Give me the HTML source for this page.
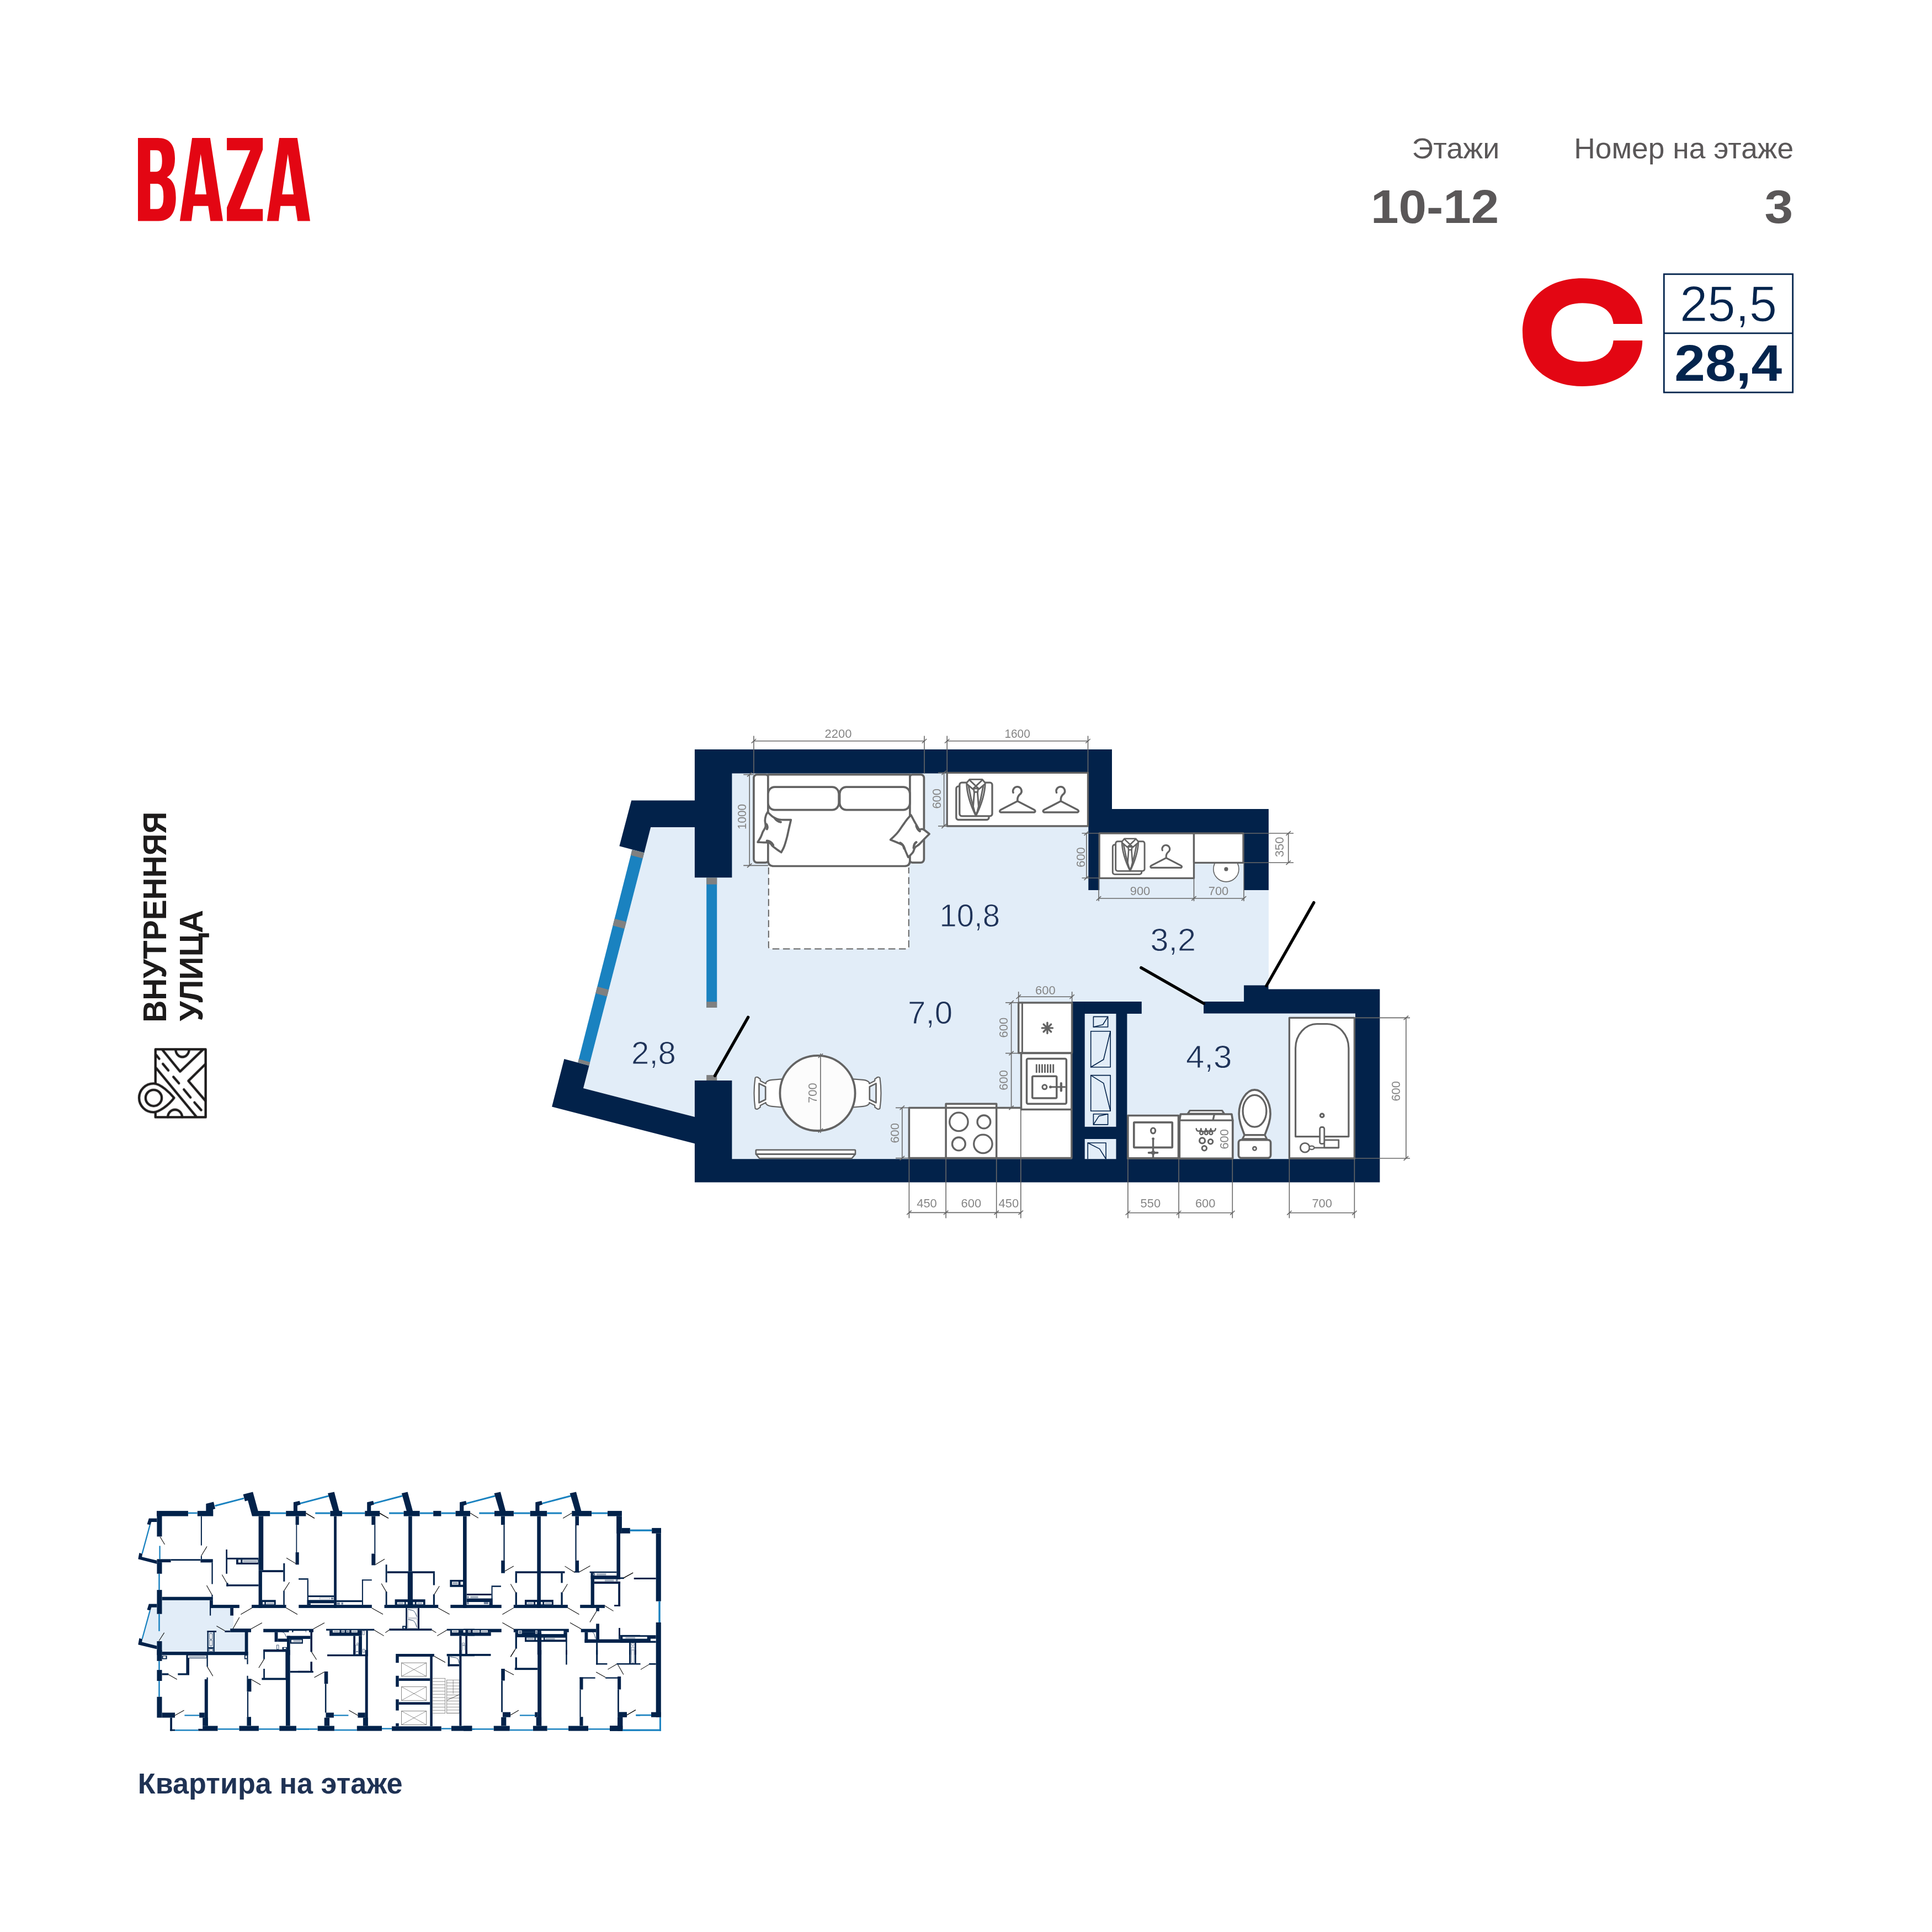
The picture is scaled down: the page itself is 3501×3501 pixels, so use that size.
<!DOCTYPE html>
<html><head><meta charset="utf-8"><title>BAZA</title>
<style>
html,body{margin:0;padding:0;background:#fff;}
body{width:3501px;height:3501px;overflow:hidden;font-family:"Liberation Sans",sans-serif;}
svg{display:block;position:absolute;left:0;top:0;will-change:transform;}
text{font-family:"Liberation Sans",sans-serif;}
</style></head><body>
<svg width="3501" height="3501" viewBox="0 0 3501 3501">
<g fill="#e30613">
<path d="M250,250 L286,250 C307,250 317,262 317,287 C317,306 311,316 302.5,321.3 C313,326 318.7,337 318.7,358 C318.7,388 307,400.5 287,400.5 L250,400.5 Z M272.2,272.2 L283,272.2 C291,272.2 293.7,278 293.7,291.5 C293.7,305 290,311.3 282,311.3 L272.2,311.3 Z M272.2,332.9 L283,332.9 C293,332.9 296.3,340 296.3,356 C296.3,372 293,378.7 284,378.7 L272.2,378.7 Z" fill="#e30613" fill-rule="evenodd"/>
<path d="M348.1,250 L380.8,250 L404,400.5 L381.3,400.5 L377.3,373.2 L350.3,373.2 L346.9,400.5 L325.9,400.5 Z M363.7,279.1 L374.1,352.3 L353.2,352.3 Z" fill="#e30613" fill-rule="evenodd"/>
<path d="M411.1,250 L476.2,250 L476.2,271 L434.5,378.7 L476.2,378.7 L476.2,400.5 L411.1,400.5 L411.1,376 L453.5,272.2 L411.1,272.2 Z" fill="#e30613" />
<path d="M506.1,250 L538.8,250 L562,400.5 L539.3,400.5 L535.3,373.2 L508.3,373.2 L504.9,400.5 L483.9,400.5 Z M521.7,279.1 L532.1,352.3 L511.2,352.3 Z" fill="#e30613" fill-rule="evenodd"/>
</g>
<text x="2717.2" y="287.3" font-size="51" fill="#5a5758" text-anchor="end" textLength="158.7" lengthAdjust="spacingAndGlyphs" >Этажи</text>
<text x="3250.2" y="287.3" font-size="51" fill="#5a5758" text-anchor="end" textLength="398" lengthAdjust="spacingAndGlyphs" >Номер на этаже</text>
<text x="2716.4" y="404.3" font-size="85.5" fill="#5a5758" font-weight="bold" text-anchor="end" textLength="232.4" lengthAdjust="spacingAndGlyphs" >10-12</text>
<text x="3249.3" y="404.3" font-size="85.5" fill="#5a5758" font-weight="bold" text-anchor="end" textLength="51.7" lengthAdjust="spacingAndGlyphs" >3</text>
<path d="M2976.2,587.1 C2976.2,537.4 2932.6,504.3 2867.2,504.3 C2802.3,504.3 2759,543.4 2759,602.1 C2759,660.8 2802.3,700 2867.2,700 C2932.6,700 2976.2,666.8 2976.2,617 L2923.6,617 C2921.6,641.3 2902.7,655.5 2867.2,655.5 C2832,655.5 2811.3,635.7 2811.3,602.1 C2811.3,568.8 2832,549.3 2867.2,549.3 C2902.7,549.3 2921.6,563.3 2923.6,587.1 Z" fill="#e30613" />
<rect x="3015.3" y="496.8" width="233.4" height="214.3" fill="none" stroke="#03244d" stroke-width="2.8" />
<line x1="3015.3" y1="603.8" x2="3248.7" y2="603.8" stroke="#03244d" stroke-width="2.8" />
<text x="3043.9" y="582.3" font-size="90" fill="#03244d" textLength="176.3" lengthAdjust="spacingAndGlyphs" stroke="#fff" stroke-width="1.1">25,5</text>
<text x="3034.3" y="689.6" font-size="92" fill="#03244d" font-weight="bold" textLength="194.9" lengthAdjust="spacingAndGlyphs" >28,4</text>
<text transform="translate(301.1 1852.7) rotate(-90)" font-size="59.4" font-weight="bold" fill="#1d1b1b" textLength="382" lengthAdjust="spacingAndGlyphs">ВНУТРЕННЯЯ</text>
<text transform="translate(366.9 1850.5) rotate(-90)" font-size="59.4" font-weight="bold" fill="#1d1b1b" textLength="201.6" lengthAdjust="spacingAndGlyphs">УЛИЦА</text>
<svg x="240" y="1890" width="150" height="150" viewBox="0 0 1932 1932"><g fill="none" stroke="#1d1b1b" stroke-width="56" stroke-linecap="round" stroke-linejoin="round">
<path d="M537,925 L537,148 L1708,148 L1708,1732 L537,1732 L537,1625"/>
<path d="M700,160 L1112,665 L1640,160"/>
<path d="M540,570 L1495,1725"/>
<path d="M1705,490 L1305,885 L1705,1350"/>
<path d="M548,272 L625,368 M710,487 L838,640 M955,790 L1085,940 M1200,1085 L1355,1270 M1447,1387 L1605,1565"/>
<path d="M1008,148 A157,178 0 0 0 1322,148"/>
<path d="M825,1732 A167.5,176 0 0 1 1160,1732"/>
<path d="M490,945 A335,335 0 0 0 490,1615 C620,1615 850,1450 972,1280 C880,1170 660,945 490,945 Z"/>
<circle cx="495" cy="1282" r="188"/>
</g></svg>
<g id="plan">
<polygon points="1258.9,1401.5 2015,1401.5 2015,1509 2298.9,1509 2298.9,1800 2456,1800 2456,2100.3 1258.9,2100.3" fill="#e2edf8" />
<polygon points="1179.2,1499.1 1260,1499.1 1260,2024.3 1057,1971.9 1067.6,1930.9 1167.4,1545.3" fill="#e2edf8" />
<polygon points="1258.9,1357.9 2015,1357.9 2015,1466 2298.9,1466 2298.9,1613 2254,1613 2254,1509.4 1992.3,1509.4 1992.3,1613 1972.3,1613 1972.3,1401.5 1326.4,1401.5 1326.4,1590.2 1258.9,1590.2 1258.9,1499.1 1179.2,1499.1 1167.4,1545.3 1122.4,1533.3 1144.2,1450.4 1258.9,1450.4" fill="#02224a" />
<polygon points="1022.4,1919.1 1067.6,1930.9 1057,1971.9 1258.9,2024.1 1258.9,1957.9 1326.4,1957.9 1326.4,2100.3 2456,2100.3 2456,1836.6 2181.1,1836.6 2181.1,1814.9 2254.1,1814.9 2254.1,1785.4 2298.5,1785.4 2298.5,1792.5 2500.4,1792.5 2500.4,2142.5 1258.9,2142.5 1258.9,2072.3 1000.1,2005.5" fill="#02224a" />
<rect x="1942.6" y="1815" width="126.2" height="22" fill="#02224a" />
<rect x="1942.6" y="1815" width="23.1" height="286" fill="#02224a" />
<rect x="2022.5" y="1836" width="19.9" height="265" fill="#02224a" />
<rect x="1965" y="2041.8" width="58" height="22.2" fill="#02224a" />
<polygon points="1145.6,1539.5 1167.4,1545.3 1067.6,1930.9 1047.3,1925.3" fill="#1a82c0" />
<polygon points="1145.6,1539.5 1167.4,1545.3 1164.7,1555.6 1143,1549.8" fill="#808080" />
<polygon points="1113.7,1664.7 1135,1670.4 1131.8,1682.9 1110.5,1677.2" fill="#808080" />
<polygon points="1082.4,1787.7 1103.2,1793.4 1100,1805.8 1079.2,1800.1" fill="#808080" />
<polygon points="1048.9,1919.1 1069.2,1924.7 1067.6,1930.9 1047.3,1925.3" fill="#808080" />
<rect x="1280.2" y="1590.2" width="19" height="235.8" fill="#1a82c0" />
<rect x="1280.2" y="1590.2" width="19" height="12.4" fill="#808080" />
<rect x="1280.2" y="1815.2" width="19" height="10.8" fill="#808080" />
<rect x="1280.2" y="1948.1" width="19" height="9.9" fill="#808080" />
<line x1="1355.7" y1="1843.3" x2="1295.5" y2="1949.3" stroke="#000" stroke-width="5.4" stroke-linecap="round"/>
<line x1="2067.9" y1="1753.7" x2="2181.5" y2="1818.5" stroke="#000" stroke-width="5.4" stroke-linecap="round"/>
<line x1="2380.8" y1="1635.7" x2="2294.8" y2="1786.5" stroke="#000" stroke-width="5.4" stroke-linecap="round"/>
</g>
<g id="furn" stroke-linejoin="round" stroke-linecap="round">
<path d="M1392.8,1569.5 L1392.8,1715.5 Q1392.8,1719.5 1396.8,1719.5 L1642.8,1719.5 Q1646.8,1719.5 1646.8,1715.5 L1646.8,1569.5 Z" fill="#fff" />
<path d="M1392.8,1572 L1392.8,1715.5 Q1392.8,1719.5 1396.8,1719.5 L1642.8,1719.5 Q1646.8,1719.5 1646.8,1715.5 L1646.8,1572" fill="none" stroke="#636363" stroke-width="2" stroke-dasharray="12.5 6.6" stroke-linecap="butt"/>
<rect x="1365.9" y="1403.6" width="27.1" height="159.5" fill="#fff" stroke="#636363" stroke-width="3.7" rx="6" />
<rect x="1647.7" y="1403.6" width="26.7" height="159.5" fill="#fff" stroke="#636363" stroke-width="3.7" rx="6" />
<path d="M1391.8,1403.6 L1648.9,1403.6 L1648.9,1559.5 Q1648.9,1569.5 1638.9,1569.5 L1401.8,1569.5 Q1391.8,1569.5 1391.8,1559.5 Z" fill="#fff" stroke="#636363" stroke-width="3.7" />
<rect x="1391.8" y="1426.2" width="128.3" height="41.4" fill="#fff" stroke="#636363" stroke-width="3.7" rx="12" />
<rect x="1521.6" y="1426.2" width="127.3" height="41.4" fill="#fff" stroke="#636363" stroke-width="3.7" rx="12" />
<path d="M1391.1,1471.6 C1392.5,1472.9 1397.1,1477.8 1399.9,1479.8 C1402.7,1481.9 1405.2,1482.9 1407.8,1483.9 C1410.4,1484.8 1411.5,1485.2 1415.7,1485.5 C1420,1485.8 1430.4,1485.6 1433.3,1485.6 C1432.7,1488.1 1431,1495.5 1429.8,1500.6 C1428.6,1505.7 1427.7,1510.9 1426.3,1516.4 C1424.8,1522 1422.8,1529.3 1421,1534 C1419.2,1538.7 1416.6,1542.8 1415.7,1544.6 C1414.4,1543.7 1410.4,1541.2 1407.8,1539.3 C1405.2,1537.4 1402.1,1535.2 1399.9,1533.2 C1397.7,1531.2 1397.2,1528.4 1394.6,1527.4 C1392,1526.3 1387.6,1526.9 1384,1526.6 C1380.5,1526.4 1374.9,1526.2 1373.1,1526.1 C1374.1,1524.5 1377.2,1519.5 1378.8,1516.4 C1380.3,1513.4 1380.9,1510.7 1382.3,1507.6 C1383.7,1504.6 1386.5,1501.5 1387.2,1498 C1387.9,1494.4 1386.2,1489.9 1386.3,1486.5 C1386.4,1483.1 1387.1,1480.2 1387.9,1477.7 C1388.7,1475.2 1390.6,1472.6 1391.1,1471.6 Z" fill="#fff" stroke="#636363" stroke-width="3.7" />
<path d="M1403.9,1482.6 Q1407.8,1488.3 1414.8,1489.7 M1388.8,1493.6 Q1392,1498 1389.8,1502.4 M1389.8,1523.5 Q1397.2,1524.4 1401.1,1531.4" fill="none" stroke="#636363" stroke-width="4.2" />
<path d="M1650.7,1476.8 C1651.7,1478.7 1655.1,1485.1 1656.8,1488.3 C1658.6,1491.4 1659.8,1493.3 1661.2,1495.7 C1662.7,1498.1 1663.7,1501.5 1665.6,1502.7 C1667.5,1503.9 1669.6,1501.3 1672.7,1502.7 C1675.8,1504.1 1682.2,1509.8 1684.1,1511.2 C1682.4,1512.9 1676.7,1518.5 1673.6,1521.7 C1670.4,1524.9 1667.7,1528.2 1665.1,1530.5 C1662.5,1532.9 1659.9,1533.5 1658.1,1535.8 C1656.3,1538.1 1656.3,1541.7 1654.2,1544.6 C1652.1,1547.5 1647.2,1551.9 1645.8,1553.4 C1644.9,1551.3 1641.9,1544.5 1640.5,1541.1 C1639,1537.6 1638.8,1534.7 1637,1532.6 C1635.1,1530.5 1633.4,1530.2 1629.6,1528.4 C1625.7,1526.6 1616.4,1522.8 1613.7,1521.7 C1615.8,1519.7 1622.5,1513.5 1626,1509.4 C1629.6,1505.3 1631.9,1501.2 1634.8,1497.1 C1637.8,1493 1641,1488.1 1643.6,1484.8 C1646.3,1481.4 1649.5,1478.2 1650.7,1476.8 Z" fill="#fff" stroke="#636363" stroke-width="3.7" />
<path d="M1660.4,1496.2 Q1662.1,1503.2 1666.9,1506.2 M1631.3,1527.4 Q1636.6,1529.6 1638.4,1537.6 M1660.4,1526.1 Q1656,1528.8 1655.6,1536.7" fill="none" stroke="#636363" stroke-width="4.2" />
<rect x="1716.2" y="1400.3" width="255.3" height="96.7" fill="#fff" stroke="#636363" stroke-width="3.3" />
<rect x="1732.8" y="1424.9" width="59.2" height="60.6" fill="#fff" stroke="#636363" stroke-width="3.3" rx="4" />
<rect x="1738.8" y="1418.2" width="59.2" height="60.6" fill="#fff" stroke="#636363" stroke-width="3.3" rx="4" />
<path d="M1751.6,1418.8 L1757,1412.4 L1779.9,1412.4 L1785.3,1418.8 Q1784.6,1445.8 1768.4,1478.7 Q1752.3,1445.8 1751.6,1418.8 Z" fill="#fff" stroke="#636363" stroke-width="2.9" />
<path d="M1756.6,1413.2 L1774.1,1429.9 M1780.3,1413.2 L1762.8,1429.9 M1752.3,1420.9 L1762.8,1429.9 M1784.6,1420.9 L1774.1,1429.9" fill="none" stroke="#636363" stroke-width="2.9" />
<path d="M1764.4,1428.9 L1772.5,1428.9 L1771.7,1435.3 L1765.2,1435.3 Z" fill="#fff" stroke="#636363" stroke-width="2.9" />
<path d="M1765.5,1436.1 L1763.3,1464.6 L1768.4,1476 L1773.6,1464.6 L1771.4,1436.1" fill="none" stroke="#636363" stroke-width="2.9" />
<path d="M1755.3,1424.9 Q1758.8,1447.1 1765.5,1468.6 M1781.6,1424.9 Q1778.1,1447.1 1771.4,1468.6" fill="none" stroke="#636363" stroke-width="2.9" />
<path d="M1836.1,1436.3 A7.8,7.8 0 1 1 1849.8,1438 Q1844.5,1442 1843.9,1447.1 L1843.8,1451.8" fill="none" stroke="#636363" stroke-width="3.5" />
<path d="M1843.8,1451.8 L1813.8,1467.3 Q1809.9,1469.7 1813.1,1471.9 L1874.5,1471.9 Q1877.7,1469.7 1873.8,1467.3 Z" fill="none" stroke="#636363" stroke-width="3.5" />
<path d="M1914.6,1436.3 A7.8,7.8 0 1 1 1928.2,1438 Q1922.9,1442 1922.4,1447.1 L1922.3,1451.8" fill="none" stroke="#636363" stroke-width="3.5" />
<path d="M1922.3,1451.8 L1892.3,1467.3 Q1888.4,1469.7 1891.6,1471.9 L1953,1471.9 Q1956.2,1469.7 1952.3,1467.3 Z" fill="none" stroke="#636363" stroke-width="3.5" />
<circle cx="2221.9" cy="1574.9" r="23" fill="#fff" stroke="#636363" stroke-width="1.6"/>
<circle cx="2221.9" cy="1574.9" r="3.6" fill="#636363"/>
<rect x="1992.1" y="1510" width="171.4" height="81.4" fill="#fff" stroke="#636363" stroke-width="3.3" />
<rect x="2163.5" y="1510" width="89.5" height="53.3" fill="#fff" stroke="#636363" stroke-width="3.3" />
<rect x="2016.3" y="1530.8" width="52.4" height="53.6" fill="#fff" stroke="#636363" stroke-width="2.9" rx="3.6" />
<rect x="2021.7" y="1524.8" width="52.4" height="53.6" fill="#fff" stroke="#636363" stroke-width="2.9" rx="3.6" />
<path d="M2033,1525.4 L2037.7,1519.7 L2058,1519.7 L2062.8,1525.4 Q2062.2,1549.3 2047.9,1578.4 Q2033.6,1549.3 2033,1525.4 Z" fill="#fff" stroke="#636363" stroke-width="2.6" />
<path d="M2037.4,1520.4 L2052.9,1535.2 M2058.3,1520.4 L2042.9,1535.2 M2033.6,1527.2 L2042.9,1535.2 M2062.2,1527.2 L2052.9,1535.2" fill="none" stroke="#636363" stroke-width="2.6" />
<path d="M2044.3,1534.4 L2051.4,1534.4 L2050.7,1540 L2045,1540 Z" fill="#fff" stroke="#636363" stroke-width="2.6" />
<path d="M2045.2,1540.7 L2043.3,1565.9 L2047.9,1576.1 L2052.4,1565.9 L2050.5,1540.7" fill="none" stroke="#636363" stroke-width="2.6" />
<path d="M2036.2,1530.8 Q2039.3,1550.5 2045.2,1569.5 M2059.5,1530.8 Q2056.4,1550.5 2050.5,1569.5" fill="none" stroke="#636363" stroke-width="2.6" />
<path d="M2106.4,1541 A6.9,6.9 0 1 1 2118.5,1542.4 Q2113.8,1546 2113.3,1550.5 L2113.2,1554.7" fill="none" stroke="#636363" stroke-width="3.1" />
<path d="M2113.2,1554.7 L2086.6,1568.4 Q2083.2,1570.5 2086,1572.4 L2140.4,1572.4 Q2143.2,1570.5 2139.8,1568.4 Z" fill="none" stroke="#636363" stroke-width="3.1" />
<path d="M1647.4,2007.4 L1850.5,2007.4 L1850.5,1908.6 L1941.9,1908.6 L1941.9,2098.6 L1647.4,2098.6 Z" fill="#fff" stroke="#636363" stroke-width="3.5" />
<line x1="1850.5" y1="2010.5" x2="1941.9" y2="2010.5" stroke="#636363" stroke-width="3.5" />
<line x1="1850.5" y1="2007.4" x2="1850.5" y2="2010.5" stroke="#636363" stroke-width="3.5" />
<rect x="1845.7" y="1816.9" width="96.9" height="91.2" fill="#fff" stroke="#636363" stroke-width="3.5" />
<line x1="1852.4" y1="1816.9" x2="1852.4" y2="1908.1" stroke="#636363" stroke-width="3" />
<line x1="1888.3" y1="1862.9" x2="1907.5" y2="1862.9" stroke="#636363" stroke-width="3.4" />
<line x1="1891.1" y1="1856.1" x2="1904.7" y2="1869.7" stroke="#636363" stroke-width="3.4" />
<line x1="1897.9" y1="1853.3" x2="1897.9" y2="1872.5" stroke="#636363" stroke-width="3.4" />
<line x1="1904.7" y1="1856.1" x2="1891.1" y2="1869.7" stroke="#636363" stroke-width="3.4" />
<rect x="1714.1" y="2000.2" width="91.6" height="98.4" fill="#fff" stroke="#636363" stroke-width="3.5" />
<line x1="1714.1" y1="2007.4" x2="1805.7" y2="2007.4" stroke="#636363" stroke-width="3.5" />
<circle cx="1737.4" cy="2032.9" r="16.7" fill="none" stroke="#636363" stroke-width="3.3"/>
<circle cx="1782.9" cy="2032.9" r="11.9" fill="none" stroke="#636363" stroke-width="3.3"/>
<circle cx="1737.4" cy="2072.9" r="11.9" fill="none" stroke="#636363" stroke-width="3.3"/>
<circle cx="1781.4" cy="2072.9" r="16.7" fill="none" stroke="#636363" stroke-width="3.3"/>
<rect x="1860.5" y="1918.6" width="71.9" height="81.6" fill="#fff" stroke="#636363" stroke-width="3.5" rx="2.5" />
<line x1="1878.3" y1="1928.5" x2="1878.3" y2="1944" stroke="#636363" stroke-width="2.9" stroke-linecap="butt"/>
<line x1="1883.4" y1="1928.5" x2="1883.4" y2="1944" stroke="#636363" stroke-width="2.9" stroke-linecap="butt"/>
<line x1="1888.4" y1="1928.5" x2="1888.4" y2="1944" stroke="#636363" stroke-width="2.9" stroke-linecap="butt"/>
<line x1="1893.5" y1="1928.5" x2="1893.5" y2="1944" stroke="#636363" stroke-width="2.9" stroke-linecap="butt"/>
<line x1="1898.6" y1="1928.5" x2="1898.6" y2="1944" stroke="#636363" stroke-width="2.9" stroke-linecap="butt"/>
<line x1="1903.6" y1="1928.5" x2="1903.6" y2="1944" stroke="#636363" stroke-width="2.9" stroke-linecap="butt"/>
<line x1="1908.7" y1="1928.5" x2="1908.7" y2="1944" stroke="#636363" stroke-width="2.9" stroke-linecap="butt"/>
<rect x="1870.7" y="1950.2" width="44.1" height="39.8" fill="#fff" stroke="#636363" stroke-width="3.5" rx="2" />
<circle cx="1892.9" cy="1969.8" r="4" fill="none" stroke="#636363" stroke-width="3"/>
<line x1="1903.5" y1="1969.8" x2="1930" y2="1969.8" stroke="#636363" stroke-width="3" />
<circle cx="1903.5" cy="1969.8" r="2.5" fill="#636363"/>
<line x1="1922.9" y1="1963" x2="1922.9" y2="1976.6" stroke="#636363" stroke-width="4.2" />
<rect x="1981.4" y="1842.4" width="26.2" height="18.6" fill="none" stroke="#02224a" stroke-width="1.6" />
<polyline points="1981.4,1861 1998.6,1856.7 2007.6,1842.4" fill="none" stroke="#02224a" stroke-width="1.6"/>
<rect x="1976.7" y="1868.8" width="35.5" height="65" fill="none" stroke="#02224a" stroke-width="1.6" />
<polyline points="1976.7,1933.8 1999.8,1920 2012.2,1868.8" fill="none" stroke="#02224a" stroke-width="1.6"/>
<rect x="1976.7" y="1948.6" width="35.5" height="64.7" fill="none" stroke="#02224a" stroke-width="1.6" />
<polyline points="1976.7,1948.6 1999.8,1962.9 2012.2,2013.3" fill="none" stroke="#02224a" stroke-width="1.6"/>
<rect x="1981.4" y="2018.8" width="26.2" height="19.1" fill="none" stroke="#02224a" stroke-width="1.6" />
<polyline points="1981.4,2037.9 1991.4,2022.4 2007.6,2018.8" fill="none" stroke="#02224a" stroke-width="1.6"/>
<clipPath id="clipshaft"><rect x="1965" y="2064" width="58" height="36.3"/></clipPath><g clip-path="url(#clipshaft)">
<rect x="1971.2" y="2071" width="32.9" height="33" fill="none" stroke="#02224a" stroke-width="1.6" />
<polyline points="1971.2,2071 1992.6,2081.9 2004.1,2100.2" fill="none" stroke="#02224a" stroke-width="1.6"/>
</g>
<path d="M1416.9,1955.3 L1398.8,1956.9 Q1391.1,1957.6 1387.8,1961.9 L1387.8,1963.7 L1377.7,1958.5 L1377.7,1955.4 L1372.9,1952 Q1369.7,1951.1 1368.5,1953.3 Q1364.5,1980.9 1368.5,2008.4 Q1369.7,2010.6 1372.9,2009.7 L1377.7,2006.4 L1377.7,2003.3 L1387.8,1998.1 L1387.8,1999.9 Q1391.1,2004.2 1398.8,2004.8 L1416.9,2006.5 Z" fill="#fff" stroke="#636363" stroke-width="2.2" />
<path d="M1375.5,1963.4 L1387.2,1969.2 L1387.2,1992.5 L1375.5,1998.3 Z" fill="#e2edf8" stroke="#636363" stroke-width="2.7" />
<path d="M1546.1,1955.3 L1564.2,1956.9 Q1572,1957.6 1575.2,1961.9 L1575.2,1963.7 L1585.3,1958.5 L1585.3,1955.4 L1590.1,1952 Q1593.3,1951.1 1594.5,1953.3 Q1598.5,1980.9 1594.5,2008.4 Q1593.3,2010.6 1590.1,2009.7 L1585.3,2006.4 L1585.3,2003.3 L1575.2,1998.1 L1575.2,1999.9 Q1572,2004.2 1564.2,2004.8 L1546.1,2006.5 Z" fill="#fff" stroke="#636363" stroke-width="2.2" />
<path d="M1587.5,1963.4 L1575.8,1969.2 L1575.8,1992.5 L1587.5,1998.3 Z" fill="#e2edf8" stroke="#636363" stroke-width="2.7" />
<circle cx="1481.5" cy="1980.9" r="68.1" fill="#fcfcfc" stroke="#636363" stroke-width="3.8"/>
<path d="M1369.8,2091.4 L1376.2,2099 L1543.6,2099 L1550,2091.4 Z" fill="#fff" stroke="#636363" stroke-width="2.6" />
<rect x="1369.8" y="2083.8" width="180.2" height="7.6" fill="#fff" stroke="#636363" stroke-width="2.6" rx="1" />
<rect x="2336.4" y="1844.4" width="118" height="254.6" fill="#fff" stroke="#636363" stroke-width="3.3" />
<path d="M2347.6,2059.6 L2347.6,1899.5 A39.2,44 0 0 1 2386.8,1855.5 L2404.7,1855.5 A39.2,44 0 0 1 2443.9,1899.5 L2443.9,2059.6 Z" fill="#fff" stroke="#636363" stroke-width="3.2" />
<circle cx="2395.7" cy="2021.4" r="3.3" fill="#fff" stroke="#636363" stroke-width="3.2"/>
<rect x="2399.8" y="2065.8" width="26" height="14" fill="#fff" stroke="#636363" stroke-width="2.8" />
<rect x="2391.7" y="2042.5" width="8.1" height="30.2" fill="#fff" stroke="#636363" stroke-width="2.8" rx="3" />
<line x1="2372" y1="2079.8" x2="2425.8" y2="2079.8" stroke="#636363" stroke-width="2.8" />
<circle cx="2364.7" cy="2079.8" r="8.4" fill="#fff" stroke="#636363" stroke-width="2.8"/>
<ellipse cx="2377" cy="2079.8" rx="4.5" ry="3.2" fill="#fff" stroke="#636363" stroke-width="2.4"/>
<circle cx="2364.7" cy="2079.8" r="5.6" fill="#fff"/>
<path d="M2255.2,2056.8 C2249.1,2041.1 2245.2,2030.5 2245.2,2018.5 C2245.2,1995.3 2258.9,1974.9 2273.5,1974.9 C2288.2,1974.9 2302.1,1995.3 2302.1,2018.5 C2302.1,2030.5 2297.9,2041.1 2291.9,2056.8 Z" fill="#fff" stroke="#636363" stroke-width="3.6" />
<ellipse cx="2273.5" cy="2013.3" rx="21.4" ry="28.9" fill="#fff" stroke="#636363" stroke-width="3.3"/>
<path d="M2251.4,2063.9 L2255.2,2056.8 L2291.9,2056.8 L2295.7,2063.9 Z" fill="#fff" stroke="#636363" stroke-width="3.2" />
<rect x="2244.4" y="2065.6" width="58.2" height="32.7" fill="#fff" stroke="#636363" stroke-width="3.7" rx="5" />
<circle cx="2273.5" cy="2081.3" r="3.2" fill="#fff" stroke="#636363" stroke-width="2.6"/>
<path d="M2152.3,2018.2 L2156.1,2012.5 L2214.6,2012.5 L2218.4,2018.2 Z" fill="#fff" stroke="#636363" stroke-width="3.2" />
<path d="M2137.3,2099.3 L2137.3,2030.5 L2139.3,2019 L2231.9,2019 L2233.8,2030.5 L2233.8,2099.3 Z" fill="#fff" stroke="#636363" stroke-width="3.7" />
<path d="M2137.3,2030.1 L2233.8,2030.1 M2200.4,2019.3 L2198.1,2029.8" fill="none" stroke="#636363" stroke-width="3.3" />
<circle cx="2177.1" cy="2053.1" r="2.9" fill="#fff" stroke="#636363" stroke-width="2.6"/>
<circle cx="2185.8" cy="2053.1" r="2.9" fill="#fff" stroke="#636363" stroke-width="2.6"/>
<circle cx="2194.4" cy="2053.1" r="2.9" fill="#fff" stroke="#636363" stroke-width="2.6"/>
<circle cx="2178.6" cy="2066.9" r="5" fill="#fff" stroke="#636363" stroke-width="3.2"/>
<circle cx="2193.6" cy="2068.8" r="4.2" fill="#fff" stroke="#636363" stroke-width="3"/>
<circle cx="2182.4" cy="2080.8" r="4.2" fill="#fff" stroke="#636363" stroke-width="3"/>
<path d="M2167.8,2045.3 A4.4,5.2 0 0 0 2176.5,2045.3 M2176.3,2045.3 A4.4,5.2 0 0 0 2185.1,2045.3 M2185.4,2045.3 A4.4,5.2 0 0 0 2194.1,2045.3 M2194.1,2045.3 A4.4,5.2 0 0 0 2202.8,2045.3 " fill="none" stroke="#636363" stroke-width="2.6" />
<rect x="2043.8" y="2021.5" width="91.8" height="77.4" fill="#fff" stroke="#636363" stroke-width="3.7" />
<rect x="2054.8" y="2033.8" width="69.5" height="45.5" fill="#fff" stroke="#636363" stroke-width="3.7" rx="1" />
<ellipse cx="2089.6" cy="2048.9" rx="4.0" ry="4.9" fill="#fff" stroke="#636363" stroke-width="3.2"/>
<line x1="2089.6" y1="2064" x2="2089.6" y2="2097.5" stroke="#636363" stroke-width="3.3" />
<circle cx="2089.6" cy="2063.6" r="2.4" fill="#636363"/>
<line x1="2081.6" y1="2088.8" x2="2097.6" y2="2088.8" stroke="#636363" stroke-width="3.7" />
<path d="M2089.6,2083.4 L2094.8,2088.8 L2089.6,2094.2 L2084.4,2088.8 Z" fill="#636363" />
</g>
<g id="dims" stroke-linecap="butt">
<line x1="1365.1" y1="1342.8" x2="1675.8" y2="1342.8" stroke="#686868" stroke-width="1.6" />
<line x1="1365.9" y1="1401.8" x2="1365.9" y2="1333.5" stroke="#686868" stroke-width="1.6" />
<line x1="1361.7" y1="1346.6" x2="1370.1" y2="1339" stroke="#686868" stroke-width="1.6" />
<line x1="1675" y1="1401.8" x2="1675" y2="1333.5" stroke="#686868" stroke-width="1.6" />
<line x1="1670.8" y1="1346.6" x2="1679.2" y2="1339" stroke="#686868" stroke-width="1.6" />
<text x="1519" y="1336.8" font-size="21.5" fill="#858585" text-anchor="middle" textLength="48.8" lengthAdjust="spacingAndGlyphs" >2200</text>
<line x1="1715.4" y1="1342.8" x2="1972.3" y2="1342.8" stroke="#686868" stroke-width="1.6" />
<line x1="1716.2" y1="1400.3" x2="1716.2" y2="1333.5" stroke="#686868" stroke-width="1.6" />
<line x1="1712" y1="1346.6" x2="1720.4" y2="1339" stroke="#686868" stroke-width="1.6" />
<line x1="1971.5" y1="1400.3" x2="1971.5" y2="1333.5" stroke="#686868" stroke-width="1.6" />
<line x1="1967.3" y1="1346.6" x2="1975.7" y2="1339" stroke="#686868" stroke-width="1.6" />
<text x="1843.6" y="1336.8" font-size="21.5" fill="#858585" text-anchor="middle" textLength="46.4" lengthAdjust="spacingAndGlyphs" >1600</text>
<line x1="1358.2" y1="1402.8" x2="1358.2" y2="1569.2" stroke="#686868" stroke-width="1.6" />
<line x1="1365.9" y1="1403.6" x2="1347.2" y2="1403.6" stroke="#686868" stroke-width="1.6" />
<line x1="1354" y1="1407.4" x2="1362.4" y2="1399.8" stroke="#686868" stroke-width="1.6" />
<line x1="1392" y1="1568.4" x2="1347.2" y2="1568.4" stroke="#686868" stroke-width="1.6" />
<line x1="1354" y1="1572.2" x2="1362.4" y2="1564.6" stroke="#686868" stroke-width="1.6" />
<text x="1351.6" y="1480" font-size="21.5" fill="#858585" text-anchor="middle" textLength="45.8" lengthAdjust="spacingAndGlyphs" transform="rotate(-90 1351.6 1480)" >1000</text>
<line x1="1710.6" y1="1399.5" x2="1710.6" y2="1497.8" stroke="#686868" stroke-width="1.6" />
<line x1="1716.2" y1="1400.3" x2="1700" y2="1400.3" stroke="#686868" stroke-width="1.6" />
<line x1="1706.4" y1="1404.1" x2="1714.8" y2="1396.5" stroke="#686868" stroke-width="1.6" />
<line x1="1716.2" y1="1497" x2="1700" y2="1497" stroke="#686868" stroke-width="1.6" />
<line x1="1706.4" y1="1500.8" x2="1714.8" y2="1493.2" stroke="#686868" stroke-width="1.6" />
<text x="1705.3" y="1447.3" font-size="21.5" fill="#858585" text-anchor="middle" textLength="36.6" lengthAdjust="spacingAndGlyphs" transform="rotate(-90 1705.3 1447.3)" >600</text>
<line x1="1968.8" y1="1509.2" x2="1968.8" y2="1591.8" stroke="#686868" stroke-width="1.6" />
<line x1="1992.6" y1="1510" x2="1960.5" y2="1510" stroke="#686868" stroke-width="1.6" />
<line x1="1964.6" y1="1513.8" x2="1973" y2="1506.2" stroke="#686868" stroke-width="1.6" />
<line x1="1992.6" y1="1591" x2="1960.5" y2="1591" stroke="#686868" stroke-width="1.6" />
<line x1="1964.6" y1="1594.8" x2="1973" y2="1587.2" stroke="#686868" stroke-width="1.6" />
<text x="1966.3" y="1553.5" font-size="21.5" fill="#858585" text-anchor="middle" textLength="36.6" lengthAdjust="spacingAndGlyphs" transform="rotate(-90 1966.3 1553.5)" >600</text>
<line x1="1990.2" y1="1628" x2="2254.8" y2="1628" stroke="#686868" stroke-width="1.6" />
<line x1="1991" y1="1591.4" x2="1991" y2="1633" stroke="#686868" stroke-width="1.6" />
<line x1="1986.8" y1="1631.8" x2="1995.2" y2="1624.2" stroke="#686868" stroke-width="1.6" />
<line x1="2163.5" y1="1591.4" x2="2163.5" y2="1633" stroke="#686868" stroke-width="1.6" />
<line x1="2159.3" y1="1631.8" x2="2167.7" y2="1624.2" stroke="#686868" stroke-width="1.6" />
<line x1="2254" y1="1563.3" x2="2254" y2="1633" stroke="#686868" stroke-width="1.6" />
<line x1="2249.8" y1="1631.8" x2="2258.2" y2="1624.2" stroke="#686868" stroke-width="1.6" />
<text x="2066" y="1621.9" font-size="21.5" fill="#858585" text-anchor="middle" textLength="36.6" lengthAdjust="spacingAndGlyphs" >900</text>
<text x="2208" y="1621.9" font-size="21.5" fill="#858585" text-anchor="middle" textLength="36.6" lengthAdjust="spacingAndGlyphs" >700</text>
<line x1="2334.7" y1="1509.2" x2="2334.7" y2="1564.1" stroke="#686868" stroke-width="1.6" />
<line x1="2253" y1="1510" x2="2344" y2="1510" stroke="#686868" stroke-width="1.6" />
<line x1="2330.5" y1="1513.8" x2="2338.9" y2="1506.2" stroke="#686868" stroke-width="1.6" />
<line x1="2253" y1="1563.3" x2="2344" y2="1563.3" stroke="#686868" stroke-width="1.6" />
<line x1="2330.5" y1="1567.1" x2="2338.9" y2="1559.5" stroke="#686868" stroke-width="1.6" />
<text x="2326.5" y="1534.9" font-size="21.5" fill="#858585" text-anchor="middle" textLength="36.6" lengthAdjust="spacingAndGlyphs" transform="rotate(-90 2326.5 1534.9)" >350</text>
<line x1="1844.9" y1="1806.2" x2="1943.4" y2="1806.2" stroke="#686868" stroke-width="1.6" />
<line x1="1845.7" y1="1816.9" x2="1845.7" y2="1797" stroke="#686868" stroke-width="1.6" />
<line x1="1841.5" y1="1810" x2="1849.9" y2="1802.4" stroke="#686868" stroke-width="1.6" />
<line x1="1942.6" y1="1816.9" x2="1942.6" y2="1797" stroke="#686868" stroke-width="1.6" />
<line x1="1938.4" y1="1810" x2="1946.8" y2="1802.4" stroke="#686868" stroke-width="1.6" />
<text x="1894.3" y="1801.9" font-size="21.5" fill="#858585" text-anchor="middle" textLength="36.6" lengthAdjust="spacingAndGlyphs" >600</text>
<line x1="1832.6" y1="1816.1" x2="1832.6" y2="2008.2" stroke="#686868" stroke-width="1.6" />
<line x1="1845.7" y1="1816.9" x2="1822" y2="1816.9" stroke="#686868" stroke-width="1.6" />
<line x1="1828.4" y1="1820.7" x2="1836.8" y2="1813.1" stroke="#686868" stroke-width="1.6" />
<line x1="1850.5" y1="1908.6" x2="1822" y2="1908.6" stroke="#686868" stroke-width="1.6" />
<line x1="1828.4" y1="1912.4" x2="1836.8" y2="1904.8" stroke="#686868" stroke-width="1.6" />
<line x1="1850.5" y1="2007.4" x2="1822" y2="2007.4" stroke="#686868" stroke-width="1.6" />
<line x1="1828.4" y1="2011.2" x2="1836.8" y2="2003.6" stroke="#686868" stroke-width="1.6" />
<text x="1826" y="1862.1" font-size="21.5" fill="#858585" text-anchor="middle" textLength="36.6" lengthAdjust="spacingAndGlyphs" transform="rotate(-90 1826 1862.1)" >600</text>
<text x="1826" y="1957.4" font-size="21.5" fill="#858585" text-anchor="middle" textLength="36.6" lengthAdjust="spacingAndGlyphs" transform="rotate(-90 1826 1957.4)" >600</text>
<line x1="1634.8" y1="2006.6" x2="1634.8" y2="2099.4" stroke="#686868" stroke-width="1.6" />
<line x1="1647.4" y1="2007.4" x2="1623" y2="2007.4" stroke="#686868" stroke-width="1.6" />
<line x1="1630.6" y1="2011.2" x2="1639" y2="2003.6" stroke="#686868" stroke-width="1.6" />
<line x1="1647.4" y1="2098.6" x2="1623" y2="2098.6" stroke="#686868" stroke-width="1.6" />
<line x1="1630.6" y1="2102.4" x2="1639" y2="2094.8" stroke="#686868" stroke-width="1.6" />
<text x="1628.6" y="2053.3" font-size="21.5" fill="#858585" text-anchor="middle" textLength="36.6" lengthAdjust="spacingAndGlyphs" transform="rotate(-90 1628.6 2053.3)" >600</text>
<line x1="1646.6" y1="2197.4" x2="1850.6" y2="2197.4" stroke="#686868" stroke-width="1.6" />
<line x1="1647.4" y1="2098.6" x2="1647.4" y2="2207.4" stroke="#686868" stroke-width="1.6" />
<line x1="1643.2" y1="2201.2" x2="1651.6" y2="2193.6" stroke="#686868" stroke-width="1.6" />
<line x1="1714.1" y1="2098.6" x2="1714.1" y2="2207.4" stroke="#686868" stroke-width="1.6" />
<line x1="1709.9" y1="2201.2" x2="1718.3" y2="2193.6" stroke="#686868" stroke-width="1.6" />
<line x1="1805.7" y1="2098.6" x2="1805.7" y2="2207.4" stroke="#686868" stroke-width="1.6" />
<line x1="1801.5" y1="2201.2" x2="1809.9" y2="2193.6" stroke="#686868" stroke-width="1.6" />
<line x1="1849.8" y1="2010.5" x2="1849.8" y2="2207.4" stroke="#686868" stroke-width="1.6" />
<line x1="1845.6" y1="2201.2" x2="1854" y2="2193.6" stroke="#686868" stroke-width="1.6" />
<text x="1679.5" y="2187.6" font-size="21.5" fill="#858585" text-anchor="middle" textLength="36.6" lengthAdjust="spacingAndGlyphs" >450</text>
<text x="1759.8" y="2187.6" font-size="21.5" fill="#858585" text-anchor="middle" textLength="36.6" lengthAdjust="spacingAndGlyphs" >600</text>
<text x="1827.9" y="2187.6" font-size="21.5" fill="#858585" text-anchor="middle" textLength="36.6" lengthAdjust="spacingAndGlyphs" >450</text>
<line x1="2043.1" y1="2197.8" x2="2234.1" y2="2197.8" stroke="#686868" stroke-width="1.6" />
<line x1="2043.9" y1="2098.5" x2="2043.9" y2="2207.4" stroke="#686868" stroke-width="1.6" />
<line x1="2039.7" y1="2201.6" x2="2048.1" y2="2194" stroke="#686868" stroke-width="1.6" />
<line x1="2136.1" y1="2098.5" x2="2136.1" y2="2207.4" stroke="#686868" stroke-width="1.6" />
<line x1="2131.9" y1="2201.6" x2="2140.3" y2="2194" stroke="#686868" stroke-width="1.6" />
<line x1="2233.3" y1="2098.5" x2="2233.3" y2="2207.4" stroke="#686868" stroke-width="1.6" />
<line x1="2229.1" y1="2201.6" x2="2237.5" y2="2194" stroke="#686868" stroke-width="1.6" />
<text x="2084.8" y="2187.9" font-size="21.5" fill="#858585" text-anchor="middle" textLength="36.6" lengthAdjust="spacingAndGlyphs" >550</text>
<text x="2184.2" y="2187.9" font-size="21.5" fill="#858585" text-anchor="middle" textLength="36.6" lengthAdjust="spacingAndGlyphs" >600</text>
<line x1="2335.6" y1="2197.8" x2="2455.2" y2="2197.8" stroke="#686868" stroke-width="1.6" />
<line x1="2336.4" y1="2099" x2="2336.4" y2="2207.4" stroke="#686868" stroke-width="1.6" />
<line x1="2332.2" y1="2201.6" x2="2340.6" y2="2194" stroke="#686868" stroke-width="1.6" />
<line x1="2454.4" y1="2099" x2="2454.4" y2="2207.4" stroke="#686868" stroke-width="1.6" />
<line x1="2450.2" y1="2201.6" x2="2458.6" y2="2194" stroke="#686868" stroke-width="1.6" />
<text x="2395.7" y="2187.9" font-size="21.5" fill="#858585" text-anchor="middle" textLength="36.6" lengthAdjust="spacingAndGlyphs" >700</text>
<line x1="2547.9" y1="1843.6" x2="2547.9" y2="2099.8" stroke="#686868" stroke-width="1.6" />
<line x1="2454.4" y1="1844.4" x2="2555" y2="1844.4" stroke="#686868" stroke-width="1.6" />
<line x1="2543.7" y1="1848.2" x2="2552.1" y2="1840.6" stroke="#686868" stroke-width="1.6" />
<line x1="2454.4" y1="2099" x2="2555" y2="2099" stroke="#686868" stroke-width="1.6" />
<line x1="2543.7" y1="2102.8" x2="2552.1" y2="2095.2" stroke="#686868" stroke-width="1.6" />
<text x="2537" y="1977.3" font-size="21.5" fill="#858585" text-anchor="middle" textLength="36.6" lengthAdjust="spacingAndGlyphs" transform="rotate(-90 2537 1977.3)" >600</text>
<line x1="1486.9" y1="1909" x2="1486.9" y2="2053" stroke="#686868" stroke-width="1.6" />
<line x1="1482.7" y1="1917" x2="1491.1" y2="1909.4" stroke="#686868" stroke-width="1.6" />
<line x1="1482.7" y1="2052.4" x2="1491.1" y2="2044.8" stroke="#686868" stroke-width="1.6" />
<text x="1480.5" y="1980.7" font-size="21.5" fill="#858585" text-anchor="middle" textLength="36.6" lengthAdjust="spacingAndGlyphs" transform="rotate(-90 1480.5 1980.7)" >700</text>
<text x="2225.9" y="2064.3" font-size="21.5" fill="#858585" text-anchor="middle" textLength="36.6" lengthAdjust="spacingAndGlyphs" transform="rotate(-90 2225.9 2064.3)" >600</text>
</g>
<text x="1702.5" y="1678.8" font-size="57.5" fill="#1e3258" textLength="109.4" lengthAdjust="spacingAndGlyphs" stroke="#e2edf8" stroke-width="0.9">10,8</text>
<text x="2084.4" y="1723.3" font-size="57.5" fill="#1e3258" textLength="82.6" lengthAdjust="spacingAndGlyphs" stroke="#e2edf8" stroke-width="0.9">3,2</text>
<text x="2148.9" y="1934.8" font-size="57.5" fill="#1e3258" textLength="83.5" lengthAdjust="spacingAndGlyphs" stroke="#e2edf8" stroke-width="0.9">4,3</text>
<text x="1645" y="1855" font-size="57.5" fill="#1e3258" textLength="81.1" lengthAdjust="spacingAndGlyphs" stroke="#e2edf8" stroke-width="0.9">7,0</text>
<text x="1144.1" y="1927.8" font-size="57.5" fill="#1e3258" textLength="80.7" lengthAdjust="spacingAndGlyphs" stroke="#e2edf8" stroke-width="0.9">2,8</text>
<g id="mini" shape-rendering="geometricPrecision">
<polygon points="293.5,2899.8 380,2899.8 380,2913.9 423,2913.9 423,2957.8 443.7,2957.8 443.7,2993.4 293.5,2993.4" fill="#e2edf8" />
<polygon points="274,2912.8 293.8,2912.8 293.8,2985.1 257.9,2975.5 272.5,2918.5" fill="#e2edf8" />
<rect x="284" y="2737.9" width="56.9" height="9.6" fill="#02224a" />
<rect x="357.8" y="2737.9" width="28.5" height="9.6" fill="#02224a" />
<polygon points="373.3,2724.9 387,2721.6 390.1,2734 386.2,2735.3 386.2,2737.9 373.3,2737.9" fill="#02224a" />
<line x1="389.6" y1="2728.8" x2="441.9" y2="2715.1" stroke="#1a82c0" stroke-width="3" />
<polygon points="440.6,2708.1 458.2,2703.5 467.7,2737.9 489.2,2737.9 489.2,2747.5 456.9,2747.5 449.1,2719 443.9,2720.5" fill="#02224a" />
<rect x="340.9" y="2740.5" width="16.8" height="2.6" fill="#1a82c0" />
<rect x="489.2" y="2740.5" width="29" height="3.1" fill="#1a82c0" />
<rect x="518.2" y="2737.9" width="36.2" height="9.6" fill="#02224a" />
<polygon points="531.9,2722.3 542.8,2719.8 544.9,2726.2 538.9,2728.3 538.9,2737.9 531.9,2737.9" fill="#02224a" />
<line x1="544.1" y1="2724.4" x2="595.8" y2="2710.7" stroke="#1a82c0" stroke-width="3" />
<polygon points="594,2706 605.7,2703.5 614.7,2737.9 603.6,2737.9" fill="#02224a" />
<rect x="598.4" y="2737.9" width="21.5" height="9.6" fill="#02224a" />
<rect x="571.3" y="2740.5" width="27.2" height="3.1" fill="#1a82c0" />
<rect x="619.9" y="2740.5" width="41.4" height="3.1" fill="#1a82c0" />
<rect x="661.3" y="2737.9" width="26.9" height="9.6" fill="#02224a" />
<polygon points="665.2,2722.3 676.1,2719.8 678.1,2726.2 672.2,2728.3 672.2,2737.9 665.2,2737.9" fill="#02224a" />
<line x1="677.4" y1="2724.4" x2="729.1" y2="2710.7" stroke="#1a82c0" stroke-width="3" />
<rect x="705.1" y="2740.5" width="26.7" height="3.1" fill="#1a82c0" />
<polygon points="727.8,2706 738.6,2703.5 748,2737.9 736.8,2737.9" fill="#02224a" />
<rect x="731.6" y="2737.9" width="29" height="9.6" fill="#02224a" />
<rect x="760.6" y="2740.5" width="24.6" height="3.1" fill="#1a82c0" />
<rect x="785.2" y="2737.9" width="14.2" height="9.6" fill="#02224a" />
<rect x="799.5" y="2740.5" width="26.1" height="3.1" fill="#1a82c0" />
<rect x="825.6" y="2737.9" width="26.4" height="9.6" fill="#02224a" />
<polygon points="833.1,2722.3 844.2,2719.8 846,2726.2 840.3,2728.3 840.3,2737.9 833.1,2737.9" fill="#02224a" />
<line x1="845.5" y1="2724.4" x2="897.3" y2="2710.7" stroke="#1a82c0" stroke-width="3" />
<polygon points="895.5,2706 906.9,2703.5 916.2,2737.9 905,2737.9" fill="#02224a" />
<rect x="896" y="2737.9" width="34.9" height="9.6" fill="#02224a" />
<rect x="868.3" y="2740.5" width="27.7" height="3.1" fill="#1a82c0" />
<rect x="930.9" y="2740.5" width="29.8" height="3.1" fill="#1a82c0" />
<rect x="960.7" y="2737.9" width="30.5" height="9.6" fill="#02224a" />
<polygon points="970.3,2722.3 981.4,2719.8 983.2,2726.2 977.5,2728.3 977.5,2737.9 970.3,2737.9" fill="#02224a" />
<line x1="982.7" y1="2724.4" x2="1034.4" y2="2710.7" stroke="#1a82c0" stroke-width="3" />
<polygon points="1032.6,2706 1044,2703.5 1053.3,2737.9 1042.2,2737.9" fill="#02224a" />
<rect x="1036.3" y="2737.9" width="35.7" height="9.6" fill="#02224a" />
<rect x="991.2" y="2740.5" width="26.9" height="3.1" fill="#1a82c0" />
<rect x="1072" y="2740.5" width="29" height="3.1" fill="#1a82c0" />
<rect x="1101" y="2737.9" width="25.9" height="9.6" fill="#02224a" />
<rect x="1117.3" y="2747.5" width="9.6" height="31.3" fill="#02224a" />
<rect x="1126.8" y="2768.9" width="15" height="9.8" fill="#02224a" />
<rect x="1141.8" y="2771.5" width="39.3" height="3.4" fill="#1a82c0" />
<rect x="1181.2" y="2768.9" width="16.8" height="9.8" fill="#02224a" />
<line x1="554.4" y1="2741.8" x2="570" y2="2751.3" stroke="#111" stroke-width="1.1" />
<line x1="688.2" y1="2741.8" x2="703.8" y2="2751.3" stroke="#111" stroke-width="1.1" />
<line x1="852" y1="2741.8" x2="866.7" y2="2750.8" stroke="#111" stroke-width="1.1" />
<line x1="1036.3" y1="2741.8" x2="1020.2" y2="2751.3" stroke="#111" stroke-width="1.1" />
<rect x="284.4" y="2740" width="9.1" height="44.4" fill="#02224a" />
<rect x="363.9" y="2747.5" width="2" height="53" fill="#02224a" />
<rect x="468.6" y="2747.5" width="8.6" height="97.7" fill="#02224a" />
<rect x="468.6" y="2845.2" width="6.3" height="68.7" fill="#02224a" />
<rect x="535.6" y="2747.5" width="6.1" height="15.7" fill="#02224a" />
<rect x="536.5" y="2763.2" width="1.7" height="49.7" fill="#02224a" />
<rect x="535.6" y="2812.9" width="6.1" height="22.4" fill="#02224a" />
<rect x="605.1" y="2747.5" width="4.8" height="166.5" fill="#02224a" />
<rect x="673.3" y="2747.5" width="7" height="15.7" fill="#02224a" />
<rect x="678.3" y="2763.2" width="2" height="52.2" fill="#02224a" />
<rect x="673.3" y="2815.4" width="7" height="21" fill="#02224a" />
<rect x="740.1" y="2747.5" width="6.6" height="100.2" fill="#02224a" />
<rect x="738.8" y="2847.7" width="9.1" height="66.3" fill="#02224a" />
<rect x="839" y="2747.5" width="6.6" height="166.5" fill="#02224a" />
<rect x="907.9" y="2747.5" width="7" height="15.7" fill="#02224a" />
<rect x="912.4" y="2763.2" width="2.2" height="64.6" fill="#02224a" />
<rect x="908.2" y="2827.8" width="6.6" height="22.9" fill="#02224a" />
<rect x="973.3" y="2747.5" width="6.6" height="166.5" fill="#02224a" />
<rect x="1042.4" y="2747.5" width="6.6" height="16.6" fill="#02224a" />
<rect x="1042.4" y="2764" width="2.2" height="63.8" fill="#02224a" />
<rect x="1042.4" y="2827.8" width="6.6" height="21.5" fill="#02224a" />
<rect x="1117.4" y="2747.5" width="6.6" height="114.3" fill="#02224a" />
<polygon points="269.8,2751.6 284.4,2751.6 284.4,2757.9 274.3,2757.9 272.6,2763.5 266.5,2761.9" fill="#02224a" />
<line x1="271.8" y1="2763.2" x2="257.6" y2="2815.4" stroke="#1a82c0" stroke-width="2.3" />
<polygon points="252.4,2814 258.2,2815.7 257.1,2821.2 284.4,2827.8 284.4,2833.9 250.3,2825.3" fill="#02224a" />
<rect x="288.4" y="2801.3" width="2.3" height="24" fill="#1a82c0" />
<rect x="284.4" y="2825.3" width="25.2" height="5.8" fill="#02224a" />
<rect x="309.6" y="2825.3" width="53.8" height="2.8" fill="#02224a" />
<rect x="363.4" y="2825.3" width="22.4" height="6.1" fill="#02224a" />
<rect x="383.4" y="2831.4" width="2.3" height="39.1" fill="#02224a" />
<rect x="363.9" y="2819.5" width="2" height="5.8" fill="#02224a" />
<rect x="284.4" y="2831.1" width="9.1" height="20.7" fill="#02224a" />
<rect x="287.2" y="2851.8" width="2.5" height="29.3" fill="#1a82c0" />
<rect x="284.4" y="2881.1" width="9.1" height="43.6" fill="#02224a" />
<rect x="293.5" y="2893.7" width="92.3" height="6.1" fill="#02224a" />
<rect x="383.4" y="2889.9" width="2.3" height="3.8" fill="#02224a" />
<rect x="380" y="2899.8" width="5.8" height="14.1" fill="#02224a" />
<rect x="380" y="2908.1" width="53.8" height="5.8" fill="#02224a" />
<rect x="380" y="2913.9" width="2.2" height="13.7" fill="#02224a" />
<rect x="417.2" y="2913.9" width="5.8" height="13.7" fill="#02224a" />
<polygon points="269.8,2906.5 284.4,2906.5 284.4,2912.8 274.3,2912.8 272.6,2918.5 266.5,2916.9" fill="#02224a" />
<line x1="271.8" y1="2918.5" x2="257.6" y2="2970.2" stroke="#1a82c0" stroke-width="2.3" />
<polygon points="252.4,2968.6 258.2,2970.6 257.1,2975.5 284.4,2982.6 284.4,2988.4 250.3,2980.2" fill="#02224a" />
<rect x="287.2" y="2924.7" width="2.5" height="31.1" fill="#1a82c0" />
<rect x="284.4" y="2974" width="9.1" height="25.2" fill="#02224a" />
<rect x="293.5" y="2993.1" width="156" height="6.1" fill="#02224a" />
<rect x="443.7" y="2952" width="5.8" height="47.2" fill="#02224a" />
<rect x="417.2" y="2951.2" width="37.8" height="6.6" fill="#02224a" />
<rect x="407.3" y="2954.8" width="9.9" height="3" fill="#02224a" />
<rect x="375.5" y="2955" width="16.6" height="2.8" fill="#02224a" />
<rect x="375.5" y="2955" width="2.3" height="38.1" fill="#02224a" />
<rect x="386.6" y="2957.8" width="2.2" height="35.3" fill="#02224a" />
<rect x="377.8" y="2984.8" width="8.8" height="2.8" fill="#02224a" />
<rect x="379.1" y="2958.6" width="6.3" height="25.7" fill="#f4f8fc" />
<rect x="380" y="2960.3" width="4.6" height="9.1" fill="none" />
<rect x="380" y="2960" width="4.6" height="10.3" fill="#fff" stroke="#02224a" stroke-width="0.7" />
<rect x="380" y="2972.2" width="4.6" height="10.4" fill="#fff" stroke="#02224a" stroke-width="0.7" />
<rect x="379.1" y="2988.1" width="6.3" height="4" fill="#fff" stroke="#02224a" stroke-width="0.7" />
<line x1="290" y1="2784.7" x2="298.5" y2="2798.8" stroke="#111" stroke-width="1.1" />
<line x1="375" y1="2802.4" x2="364.6" y2="2819.5" stroke="#111" stroke-width="1.1" />
<line x1="402.3" y1="2853.5" x2="411.4" y2="2869.2" stroke="#111" stroke-width="1.1" />
<line x1="374.5" y1="2873" x2="384.1" y2="2889.9" stroke="#111" stroke-width="1.1" />
<line x1="436.3" y1="2925.5" x2="457" y2="2913.6" stroke="#111" stroke-width="1.1" />
<line x1="433.8" y1="2930.8" x2="422.2" y2="2951.2" stroke="#111" stroke-width="1.1" />
<line x1="392.4" y1="2946.5" x2="407.3" y2="2955" stroke="#111" stroke-width="1.1" />
<line x1="455" y1="2951.7" x2="474.9" y2="2940.7" stroke="#111" stroke-width="1.1" />
<line x1="297.6" y1="2958.6" x2="288" y2="2973.5" stroke="#111" stroke-width="1.1" />
<line x1="519.1" y1="2823.3" x2="536.5" y2="2833.6" stroke="#111" stroke-width="1.1" />
<line x1="524.6" y1="2867.2" x2="514.9" y2="2882.4" stroke="#111" stroke-width="1.1" />
<line x1="518.3" y1="2913.6" x2="539" y2="2925.5" stroke="#111" stroke-width="1.1" />
<rect x="409.3" y="2807.9" width="2.7" height="43.9" fill="#02224a" />
<rect x="411.9" y="2822.8" width="56.6" height="3" fill="#02224a" />
<rect x="428" y="2825.8" width="40.6" height="9.1" fill="#02224a" />
<rect x="431.8" y="2826.5" width="4.5" height="5" fill="#fff" />
<rect x="439.3" y="2826.5" width="28" height="5" fill="#fff" />
<rect x="440.4" y="2827.8" width="25.7" height="2.5" fill="#9aa7b8" />
<rect x="410.3" y="2868.4" width="3.3" height="6.1" fill="#02224a" />
<rect x="410.3" y="2871.2" width="58.3" height="3.3" fill="#02224a" />
<rect x="474.9" y="2845.2" width="38.4" height="3.8" fill="#02224a" />
<rect x="513.3" y="2832.8" width="3" height="33.1" fill="#02224a" />
<rect x="513.3" y="2882.4" width="2.5" height="25.7" fill="#02224a" />
<rect x="474.9" y="2899.3" width="24.8" height="8.8" fill="#02224a" />
<rect x="476" y="2903.1" width="3.3" height="4.1" fill="#fff" />
<rect x="481.8" y="2903.1" width="14.9" height="4.1" fill="#fff" />
<rect x="483.1" y="2904.3" width="12.8" height="2" fill="#9aa7b8" />
<rect x="456.1" y="2908.1" width="62.4" height="5.8" fill="#02224a" />
<rect x="541.1" y="2860.1" width="17.7" height="2.5" fill="#02224a" />
<rect x="556.7" y="2862.6" width="2.2" height="45.5" fill="#02224a" />
<rect x="477.2" y="2951.7" width="90.8" height="6.1" fill="#02224a" />
<rect x="497.6" y="2957.8" width="5.8" height="17.4" fill="#02224a" />
<rect x="503.4" y="2969.4" width="16.6" height="5.8" fill="#02224a" />
<rect x="519.9" y="2964.4" width="5.8" height="34.8" fill="#02224a" />
<rect x="519.9" y="2964.4" width="42.6" height="5.5" fill="#02224a" />
<rect x="525.7" y="2969.4" width="23.2" height="9.1" fill="#02224a" />
<rect x="527.9" y="2971.6" width="18.9" height="4.5" fill="#fff" />
<rect x="531.5" y="2972.5" width="14.1" height="2.7" fill="#9aa7b8" />
<rect x="523.6" y="2954.8" width="5.5" height="3.5" fill="#fff" />
<rect x="523.6" y="2960" width="5.5" height="3.6" fill="#fff" />
<rect x="531.5" y="2955.3" width="22.4" height="8.3" fill="#fff" />
<rect x="555.5" y="2954.8" width="4.5" height="3.5" fill="#fff" />
<rect x="553.9" y="2960" width="6.1" height="3.6" fill="#fff" />
<rect x="477.2" y="2988.9" width="42.7" height="4.5" fill="#02224a" />
<rect x="499.2" y="2975.2" width="20.7" height="13.7" fill="#fff" />
<rect x="511.6" y="2984.8" width="8.3" height="4.1" fill="#02224a" />
<rect x="514.1" y="2985.8" width="4.1" height="2.3" fill="#fff" />
<rect x="501.4" y="2981" width="3.6" height="7.5" fill="#fff" stroke="#02224a" stroke-width="0.7" />
<polyline points="504.2,2955.3 514.1,2958.3 516.9,2961.9 519.1,2967.2" fill="none" stroke="#02224a" stroke-width="0.8"/>
<rect x="558.7" y="2891.1" width="46.4" height="3" fill="#02224a" />
<rect x="556.6" y="2899.3" width="48.5" height="6" fill="#02224a" />
<rect x="556.6" y="2905.3" width="6.3" height="2.8" fill="#02224a" />
<rect x="541.3" y="2908.1" width="132.5" height="5.8" fill="#02224a" />
<rect x="578.9" y="2895" width="19" height="3.3" fill="#9aa7b8" />
<rect x="579.8" y="2895.7" width="17.4" height="2" fill="#fff" />
<rect x="600" y="2895" width="4.3" height="3.3" fill="#6c7f99" />
<rect x="609.9" y="2899.8" width="46" height="3.3" fill="#02224a" />
<rect x="655.9" y="2862.6" width="2" height="45.5" fill="#02224a" />
<rect x="655.9" y="2862.2" width="17.9" height="2" fill="#02224a" />
<rect x="610.4" y="2904" width="5.5" height="3.6" fill="#6c7f99" />
<rect x="618.5" y="2904" width="3.3" height="3.6" fill="#6c7f99" />
<rect x="698.7" y="2835.2" width="2.8" height="32.3" fill="#02224a" />
<rect x="698.7" y="2884.1" width="2.8" height="24" fill="#02224a" />
<rect x="701.5" y="2847.3" width="38.6" height="3.6" fill="#02224a" />
<rect x="746.7" y="2847.3" width="41.2" height="3.6" fill="#02224a" />
<rect x="784.8" y="2851" width="3.1" height="21.5" fill="#02224a" />
<rect x="784.8" y="2889.1" width="3.1" height="19" fill="#02224a" />
<rect x="696.5" y="2908.1" width="97.7" height="5.8" fill="#02224a" />
<rect x="715.6" y="2898.2" width="55" height="9.9" fill="#02224a" />
<rect x="719.7" y="2903.1" width="13.3" height="4.1" fill="#fff" />
<rect x="735.4" y="2903.1" width="3.3" height="4.1" fill="#fff" />
<rect x="748.4" y="2903.1" width="3.3" height="4.1" fill="#fff" />
<rect x="754.5" y="2903.1" width="12.4" height="4.1" fill="#fff" />
<rect x="721.4" y="2904.1" width="9.9" height="2.2" fill="#9aa7b8" />
<rect x="756.1" y="2904.1" width="9.1" height="2.2" fill="#9aa7b8" />
<rect x="815.3" y="2862.9" width="23.7" height="12.9" fill="#02224a" />
<rect x="819.1" y="2866.2" width="11.6" height="5.5" fill="#fff" />
<rect x="834.5" y="2866.2" width="4.5" height="5.5" fill="#fff" />
<rect x="820.2" y="2867.2" width="9.3" height="3.5" fill="#9aa7b8" />
<rect x="816.3" y="2908.1" width="23.5" height="5.8" fill="#02224a" />
<rect x="735.1" y="2913.9" width="2.8" height="37.8" fill="#02224a" />
<rect x="757" y="2913.9" width="3" height="37.8" fill="#02224a" />
<rect x="705.3" y="2951.2" width="77.3" height="3.6" fill="#02224a" />
<rect x="729.1" y="2946.2" width="6" height="5.5" fill="#02224a" />
<rect x="731.3" y="2948" width="2.8" height="2.7" fill="#fff" />
<rect x="739.3" y="2915.2" width="16.6" height="16.1" fill="#fff" stroke="#8a93a3" stroke-width="0.8" />
<polyline points="740.1,2916.6 749.5,2918.9 752.5,2922.7 755.3,2929.6" fill="none" stroke="#02224a" stroke-width="0.8"/>
<rect x="739.3" y="2933.5" width="16.6" height="16.9" fill="#fff" stroke="#8a93a3" stroke-width="0.8" />
<polyline points="740.1,2934.8 749.5,2937.1 752.5,2940.9 755.3,2948.7" fill="none" stroke="#02224a" stroke-width="0.8"/>
<rect x="562.4" y="2954.8" width="3.6" height="38.6" fill="#02224a" />
<rect x="554.6" y="2955.3" width="5" height="3" fill="#fff" />
<rect x="553.3" y="2960" width="5.8" height="3.6" fill="#fff" />
<rect x="591" y="2951.7" width="87.3" height="3.1" fill="#02224a" />
<rect x="597.1" y="2954.8" width="58.8" height="9.6" fill="#02224a" />
<rect x="602.9" y="2954" width="12.4" height="4.3" fill="#fff" />
<rect x="618.7" y="2954" width="5.8" height="4.3" fill="#fff" />
<rect x="627.5" y="2954" width="5.6" height="4.3" fill="#fff" />
<rect x="636.9" y="2954" width="10.8" height="4.3" fill="#fff" />
<rect x="604.3" y="2955" width="9.9" height="2.3" fill="#9aa7b8" />
<rect x="638.1" y="2955" width="8.6" height="2.3" fill="#9aa7b8" />
<rect x="619.5" y="2954.8" width="4.1" height="2.7" fill="#6c7f99" />
<rect x="628.3" y="2954.8" width="4" height="2.7" fill="#6c7f99" />
<rect x="640.2" y="2964.4" width="3.8" height="34" fill="#02224a" />
<rect x="650.1" y="2964.4" width="5.8" height="34" fill="#02224a" />
<rect x="663.4" y="2954.8" width="3.3" height="43.6" fill="#02224a" />
<rect x="644.8" y="2981" width="4.5" height="11.6" fill="#fff" stroke="#5d6f8c" stroke-width="0.8" />
<rect x="646.8" y="2977.2" width="2.5" height="3.3" fill="#fff" stroke="#5d6f8c" stroke-width="0.8" />
<rect x="644.8" y="2993.4" width="4.5" height="4.1" fill="#fff" stroke="#5d6f8c" stroke-width="0.8" />
<rect x="657.3" y="2955.3" width="3.3" height="7" fill="#fff" stroke="#5d6f8c" stroke-width="0.8" />
<rect x="657.6" y="2988.4" width="3.3" height="5.8" fill="#fff" stroke="#5d6f8c" stroke-width="0.8" />
<rect x="809.6" y="2951.7" width="50.4" height="3.1" fill="#02224a" />
<rect x="815.8" y="2954.8" width="44.2" height="9.6" fill="#02224a" />
<rect x="819.1" y="2954" width="11.6" height="4.3" fill="#fff" />
<rect x="839.5" y="2954" width="5" height="4.3" fill="#fff" />
<rect x="847.7" y="2954" width="5" height="4.3" fill="#fff" />
<rect x="856.4" y="2954" width="3.6" height="4.3" fill="#fff" />
<rect x="820.2" y="2955" width="9.3" height="2.3" fill="#9aa7b8" />
<rect x="840.1" y="2954.7" width="3.6" height="3" fill="#6c7f99" />
<rect x="848.4" y="2954.7" width="3.6" height="3" fill="#6c7f99" />
<rect x="832.3" y="2964.4" width="4.1" height="34" fill="#02224a" />
<rect x="843.9" y="2964.4" width="2.5" height="33.1" fill="#02224a" />
<rect x="837.8" y="2977.2" width="4" height="3.8" fill="#fff" stroke="#5d6f8c" stroke-width="0.8" />
<rect x="837.8" y="2981.8" width="5" height="10.3" fill="#fff" stroke="#5d6f8c" stroke-width="0.8" />
<rect x="837.8" y="2993.4" width="5" height="3.6" fill="#fff" stroke="#5d6f8c" stroke-width="0.8" />
<line x1="554.6" y1="2742.5" x2="569.8" y2="2751.3" stroke="#111" stroke-width="1.1" />
<line x1="687.9" y1="2742.5" x2="704" y2="2751.3" stroke="#111" stroke-width="1.1" />
<line x1="680.3" y1="2835.2" x2="697" y2="2825.3" stroke="#111" stroke-width="1.1" />
<line x1="691.1" y1="2869.5" x2="699.8" y2="2884.4" stroke="#111" stroke-width="1.1" />
<line x1="796.2" y1="2874.2" x2="787.1" y2="2889.1" stroke="#111" stroke-width="1.1" />
<line x1="673.8" y1="2913.9" x2="694" y2="2925.2" stroke="#111" stroke-width="1.1" />
<line x1="794.2" y1="2913.9" x2="814.6" y2="2925.2" stroke="#111" stroke-width="1.1" />
<line x1="567.8" y1="2951.7" x2="588" y2="2940.7" stroke="#111" stroke-width="1.1" />
<line x1="678.3" y1="2954" x2="695.7" y2="2964.4" stroke="#111" stroke-width="1.1" />
<line x1="705.3" y1="2953.7" x2="698.2" y2="2958.6" stroke="#111" stroke-width="1.1" />
<line x1="782.6" y1="2953.7" x2="790.4" y2="2958.6" stroke="#111" stroke-width="1.1" />
<line x1="809.6" y1="2954" x2="792.1" y2="2964.4" stroke="#111" stroke-width="1.1" />
<line x1="564.5" y1="2993.4" x2="573.6" y2="3007.5" stroke="#111" stroke-width="1.1" />
<rect x="890.5" y="2873.3" width="17.4" height="2.5" fill="#02224a" />
<rect x="890.5" y="2875.8" width="2" height="32.3" fill="#02224a" />
<rect x="845.8" y="2887.9" width="44.7" height="3.1" fill="#02224a" />
<rect x="845.8" y="2896.5" width="46.7" height="6.6" fill="#02224a" />
<rect x="886.4" y="2903.1" width="6.1" height="7.5" fill="#02224a" />
<rect x="840" y="2908.1" width="68.7" height="5.8" fill="#02224a" />
<rect x="845.8" y="2903.1" width="40.6" height="5" fill="#fff" />
<rect x="846.3" y="2892.4" width="3.3" height="3.3" fill="#6c7f99" />
<rect x="852.4" y="2892.4" width="14.1" height="3.3" fill="#9aa7b8" />
<rect x="846.3" y="2903.1" width="3.3" height="3.8" fill="#6c7f99" />
<rect x="876.8" y="2903.1" width="8" height="3.8" fill="#6c7f99" />
<rect x="933.6" y="2847.3" width="89.9" height="3.6" fill="#02224a" />
<rect x="933.6" y="2851" width="3.3" height="17.4" fill="#02224a" />
<rect x="1016.4" y="2851" width="3.3" height="17.4" fill="#02224a" />
<rect x="933.6" y="2885.4" width="3.3" height="22.7" fill="#02224a" />
<rect x="1016.4" y="2885.4" width="3.3" height="22.7" fill="#02224a" />
<rect x="951" y="2899" width="51.8" height="9.1" fill="#02224a" />
<rect x="930.8" y="2908.1" width="98.1" height="5.8" fill="#02224a" />
<rect x="954.6" y="2903.1" width="12.6" height="4.1" fill="#fff" />
<rect x="970" y="2903.1" width="3" height="4.1" fill="#fff" />
<rect x="980" y="2903.1" width="3.3" height="4.1" fill="#fff" />
<rect x="986.1" y="2903.1" width="13.7" height="4.1" fill="#fff" />
<rect x="955.9" y="2904.1" width="9.9" height="2.2" fill="#9aa7b8" />
<rect x="987.4" y="2904.1" width="11.3" height="2.2" fill="#9aa7b8" />
<rect x="1040.7" y="2847.3" width="9.3" height="2.3" fill="#02224a" />
<rect x="1068.6" y="2847.7" width="48.9" height="2.5" fill="#02224a" />
<rect x="1070.6" y="2850.1" width="6.3" height="63.8" fill="#02224a" />
<rect x="1070.6" y="2855.1" width="53.5" height="6.6" fill="#02224a" />
<rect x="1076.9" y="2865.9" width="47.2" height="4.1" fill="#02224a" />
<rect x="1120.2" y="2870" width="3.8" height="40.6" fill="#02224a" />
<rect x="1113" y="2908.1" width="11.1" height="2.8" fill="#02224a" />
<rect x="1051.2" y="2908.1" width="44.7" height="5.8" fill="#02224a" />
<rect x="1080.2" y="2913.9" width="5.8" height="5.8" fill="#02224a" />
<rect x="1074.4" y="2851.3" width="4.1" height="3.3" fill="#6c7f99" />
<rect x="1081" y="2851.3" width="17.4" height="3.3" fill="#9aa7b8" />
<rect x="1095.9" y="2862.6" width="16.6" height="3" fill="#9aa7b8" />
<rect x="1115.8" y="2862.2" width="3.8" height="3.3" fill="#6c7f99" />
<rect x="1141.8" y="2772.3" width="18.2" height="2.5" fill="#1a82c0" />
<rect x="1124.1" y="2858.4" width="6.1" height="2.5" fill="#02224a" />
<rect x="1148.9" y="2859.3" width="11.1" height="2.5" fill="#02224a" />
<rect x="840" y="2951.7" width="68.7" height="6.1" fill="#02224a" />
<rect x="840" y="2957.8" width="49.7" height="6.6" fill="#02224a" />
<rect x="843.3" y="2964.4" width="3.6" height="33.1" fill="#02224a" />
<rect x="840" y="2954" width="3.3" height="4.3" fill="#fff" />
<rect x="848.3" y="2954" width="4.6" height="4.3" fill="#fff" />
<rect x="856.6" y="2954" width="12.4" height="4.3" fill="#fff" />
<rect x="871.5" y="2954" width="12.4" height="4.3" fill="#fff" />
<rect x="848.6" y="2954.7" width="3.8" height="3" fill="#6c7f99" />
<rect x="857.4" y="2955" width="10.8" height="2.3" fill="#9aa7b8" />
<rect x="872.3" y="2955" width="10.8" height="2.3" fill="#9aa7b8" />
<rect x="930.8" y="2951.7" width="100" height="6.1" fill="#02224a" />
<rect x="934.1" y="2957.8" width="93.1" height="9.1" fill="#02224a" />
<rect x="951" y="2966.9" width="76.2" height="8.3" fill="#02224a" />
<rect x="939" y="2954.5" width="6.6" height="6.1" fill="#fff" />
<rect x="970" y="2954.5" width="3.8" height="6.1" fill="#fff" />
<rect x="980.8" y="2955.3" width="40.6" height="5.8" fill="#fff" />
<rect x="954.3" y="2967.7" width="14.1" height="4.1" fill="#fff" />
<rect x="970.8" y="2967.7" width="3" height="4.1" fill="#fff" />
<rect x="981.1" y="2967.7" width="3.8" height="4.1" fill="#fff" />
<rect x="987.4" y="2967.7" width="37.3" height="3.6" fill="#fff" />
<rect x="940.2" y="2955.3" width="4.5" height="4.6" fill="#6c7f99" />
<rect x="970.5" y="2955.3" width="2.8" height="4.6" fill="#6c7f99" />
<rect x="955.4" y="2968.6" width="11.8" height="2.5" fill="#9aa7b8" />
<rect x="988.7" y="2968.6" width="16.9" height="2.2" fill="#9aa7b8" />
<rect x="933.6" y="2957.8" width="3.3" height="29.8" fill="#02224a" />
<rect x="973.8" y="2957.8" width="7.3" height="40.6" fill="#02224a" />
<rect x="1025.2" y="2957.8" width="2.5" height="40.6" fill="#02224a" />
<rect x="1052.8" y="2951.7" width="27.3" height="6.1" fill="#02224a" />
<rect x="1059.5" y="2957.8" width="5.8" height="19" fill="#02224a" />
<rect x="1080.2" y="2942.4" width="5.8" height="28.7" fill="#02224a" />
<rect x="1059.5" y="2970.6" width="100.5" height="6.3" fill="#02224a" />
<polyline points="1066.6,2955.3 1073.5,2957 1076.9,2961.1 1079.3,2969.4" fill="none" stroke="#02224a" stroke-width="0.8"/>
<rect x="1121.1" y="2950" width="2.5" height="20.5" fill="#02224a" />
<rect x="1123.6" y="2962.8" width="36.4" height="7.8" fill="#02224a" />
<rect x="1124.9" y="2966.6" width="4.6" height="3.3" fill="#6c7f99" />
<rect x="1132.3" y="2966.9" width="27.7" height="3" fill="#fff" />
<rect x="1133.2" y="2967.4" width="18.2" height="2" fill="#9aa7b8" />
<rect x="1080.2" y="2976.9" width="3" height="21.5" fill="#02224a" />
<rect x="1140.1" y="2976.9" width="3" height="21.5" fill="#02224a" />
<rect x="1150.1" y="2976.9" width="2.7" height="21.5" fill="#02224a" />
<rect x="1144.4" y="2977.7" width="4.5" height="3.8" fill="#fff" stroke="#5d6f8c" stroke-width="0.8" />
<rect x="1144.4" y="2984.3" width="4.5" height="14.1" fill="#fff" stroke="#5d6f8c" stroke-width="0.8" />
<line x1="914.5" y1="2847.3" x2="930.8" y2="2838.1" stroke="#111" stroke-width="1.1" />
<line x1="1023.5" y1="2838.1" x2="1041.2" y2="2849.3" stroke="#111" stroke-width="1.1" />
<line x1="1050" y1="2848.5" x2="1069.4" y2="2837.4" stroke="#111" stroke-width="1.1" />
<line x1="925.3" y1="2870.5" x2="934.4" y2="2885.8" stroke="#111" stroke-width="1.1" />
<line x1="1028.3" y1="2870.5" x2="1019.4" y2="2885.4" stroke="#111" stroke-width="1.1" />
<line x1="930.8" y1="2913.6" x2="910.4" y2="2925.5" stroke="#111" stroke-width="1.1" />
<line x1="1028.8" y1="2913.6" x2="1049.5" y2="2925.5" stroke="#111" stroke-width="1.1" />
<line x1="1095.9" y1="2909.8" x2="1111.6" y2="2919.4" stroke="#111" stroke-width="1.1" />
<line x1="1081" y1="2919.7" x2="1068.9" y2="2939.6" stroke="#111" stroke-width="1.1" />
<line x1="910.4" y1="2940.4" x2="931.1" y2="2952.3" stroke="#111" stroke-width="1.1" />
<line x1="1033" y1="2940.4" x2="1053.3" y2="2952" stroke="#111" stroke-width="1.1" />
<line x1="934.4" y1="2987.6" x2="925.3" y2="3002.5" stroke="#111" stroke-width="1.1" />
<line x1="1129.9" y1="2859.3" x2="1147.2" y2="2850.1" stroke="#111" stroke-width="1.1" />
<rect x="1188.7" y="2778.7" width="9.1" height="123" fill="#02224a" />
<rect x="1193.3" y="2901.7" width="3.4" height="38.3" fill="#1a82c0" />
<rect x="1188.7" y="2940" width="9.1" height="171.8" fill="#02224a" />
<rect x="1180" y="3102.6" width="17.8" height="9.1" fill="#02224a" />
<rect x="1194.9" y="3111.8" width="3" height="25.1" fill="#1a82c0" />
<rect x="1128.3" y="3133.6" width="69.5" height="3.2" fill="#1a82c0" />
<rect x="1119.2" y="3102.6" width="16.4" height="9.1" fill="#02224a" />
<rect x="1119.2" y="3111.8" width="9.1" height="25.1" fill="#02224a" />
<rect x="1105.1" y="3127.2" width="23.2" height="9.6" fill="#02224a" />
<rect x="1152.3" y="3106.7" width="27.8" height="2.7" fill="#1a82c0" />
<rect x="1123.8" y="2858.9" width="6.8" height="2.3" fill="#02224a" />
<rect x="1148.8" y="2858.9" width="39.9" height="3" fill="#02224a" />
<rect x="1121.5" y="2950" width="2.3" height="14.4" fill="#02224a" />
<rect x="1123.8" y="2963.2" width="64.9" height="13.7" fill="#02224a" />
<rect x="1128.3" y="2966" width="44.4" height="3.6" fill="#fff" />
<rect x="1133.3" y="2966.7" width="17.8" height="2.3" fill="#9aa7b8" />
<rect x="1178.9" y="2969.6" width="9.8" height="3.9" fill="#fff" />
<rect x="1160.2" y="3014" width="0.5" height="2.7" fill="#02224a" />
<rect x="1176.2" y="3014" width="12.5" height="2.7" fill="#02224a" />
<rect x="1119.7" y="3061.6" width="1.8" height="41" fill="#02224a" />
<line x1="1129.5" y1="2860" x2="1147.2" y2="2850" stroke="#111" stroke-width="1.1" />
<line x1="1176.2" y1="3016.1" x2="1160.9" y2="3025.4" stroke="#111" stroke-width="1.1" />
<line x1="1135.6" y1="3107.9" x2="1151.8" y2="3098.8" stroke="#111" stroke-width="1.1" />
<rect x="284.4" y="2990" width="9.1" height="19.9" fill="#02224a" />
<rect x="293.5" y="3000.3" width="9.1" height="6.3" fill="#02224a" />
<rect x="295.5" y="3001.3" width="5" height="3.6" fill="#fff" />
<rect x="287.2" y="3009.9" width="2.5" height="16.2" fill="#1a82c0" />
<rect x="284.4" y="3026.1" width="9.1" height="19.9" fill="#02224a" />
<rect x="293.5" y="3032.2" width="11.9" height="3.3" fill="#02224a" />
<rect x="287.2" y="3046" width="2.5" height="28.8" fill="#1a82c0" />
<rect x="284.4" y="3074.8" width="9.1" height="37.8" fill="#02224a" />
<rect x="293.5" y="3103.5" width="23.5" height="9.1" fill="#02224a" />
<rect x="337.4" y="2999.1" width="5.6" height="35.9" fill="#02224a" />
<rect x="322.3" y="3032.2" width="20.7" height="3.3" fill="#02224a" />
<rect x="339.4" y="2999.1" width="35.1" height="6.1" fill="#02224a" />
<rect x="340.7" y="2999.9" width="32.8" height="4.3" fill="#fff" />
<rect x="342.4" y="3000.9" width="29.3" height="2.3" fill="#9aa7b8" />
<rect x="374.5" y="2999.1" width="2.3" height="21" fill="#02224a" />
<rect x="308.2" y="3112.6" width="3.8" height="24" fill="#02224a" />
<rect x="308.2" y="3133.8" width="8.8" height="2.8" fill="#02224a" />
<rect x="317" y="3134.1" width="42.2" height="2.5" fill="#1a82c0" />
<rect x="359.3" y="3132.8" width="8.3" height="3.8" fill="#02224a" />
<rect x="334.4" y="3107.3" width="26.8" height="2.3" fill="#1a82c0" />
<rect x="361.2" y="3103.5" width="9.6" height="9.1" fill="#02224a" />
<rect x="370.8" y="3043" width="6" height="84.5" fill="#02224a" />
<rect x="374.5" y="3039.7" width="2.3" height="3.3" fill="#02224a" />
<rect x="367.2" y="3112.6" width="9.6" height="14.9" fill="#02224a" />
<rect x="367.2" y="3127.5" width="27.3" height="9.1" fill="#02224a" />
<rect x="394.5" y="3132.1" width="38.9" height="2.5" fill="#1a82c0" />
<rect x="433.5" y="3127.5" width="35.4" height="9.1" fill="#02224a" />
<rect x="447.4" y="3111.2" width="7.6" height="16.2" fill="#02224a" />
<rect x="447.9" y="3065.4" width="2.2" height="45.9" fill="#02224a" />
<rect x="447.4" y="3042.2" width="8" height="23.2" fill="#02224a" />
<rect x="447.4" y="3036.7" width="2.2" height="5.5" fill="#02224a" />
<rect x="442.9" y="2999.1" width="6.6" height="7.5" fill="#02224a" />
<rect x="444.6" y="3000.3" width="2.8" height="4.6" fill="#fff" />
<rect x="447.4" y="3006.6" width="2.2" height="9.1" fill="#02224a" />
<rect x="468.9" y="3132.1" width="37.4" height="2.5" fill="#1a82c0" />
<rect x="506.3" y="3127.5" width="30.6" height="9.1" fill="#02224a" />
<rect x="517.9" y="2990" width="7.8" height="137.5" fill="#02224a" />
<rect x="537" y="3132.1" width="23" height="2.5" fill="#1a82c0" />
<rect x="477.2" y="2990" width="2.7" height="16.6" fill="#02224a" />
<rect x="477.2" y="3024" width="2.7" height="18.2" fill="#02224a" />
<rect x="474.4" y="3040.5" width="43.6" height="3.8" fill="#02224a" />
<rect x="525.7" y="3027.8" width="34.3" height="3.3" fill="#02224a" />
<rect x="517.4" y="2993" width="2.5" height="47.5" fill="#02224a" />
<line x1="305.4" y1="3034.4" x2="320.7" y2="3043.3" stroke="#111" stroke-width="1.1" />
<line x1="375.5" y1="3020.1" x2="385.8" y2="3037.2" stroke="#111" stroke-width="1.1" />
<line x1="478.5" y1="3006.6" x2="468.9" y2="3022.3" stroke="#111" stroke-width="1.1" />
<line x1="455.3" y1="3043.3" x2="472.2" y2="3052.9" stroke="#111" stroke-width="1.1" />
<line x1="317" y1="3108.4" x2="333.6" y2="3099.3" stroke="#111" stroke-width="1.1" />
<rect x="562.4" y="3011.2" width="3.6" height="17.7" fill="#02224a" />
<rect x="540" y="3027.8" width="27.8" height="3.3" fill="#02224a" />
<rect x="593" y="2998" width="73.7" height="3.3" fill="#02224a" />
<rect x="640.2" y="2990" width="3.8" height="8" fill="#02224a" />
<rect x="650.1" y="2990" width="5.8" height="8" fill="#02224a" />
<rect x="661.7" y="2990" width="5" height="137.5" fill="#02224a" />
<rect x="587.7" y="3028.9" width="6.6" height="22.4" fill="#02224a" />
<rect x="588.9" y="3051.3" width="2.5" height="52.2" fill="#02224a" />
<rect x="590.5" y="3103.5" width="14.4" height="9.1" fill="#02224a" />
<rect x="587.7" y="3112.6" width="9.4" height="14.9" fill="#02224a" />
<rect x="575.6" y="3127.5" width="30.3" height="9.1" fill="#02224a" />
<rect x="540" y="3132.1" width="35.6" height="2.5" fill="#1a82c0" />
<rect x="605.9" y="3133.8" width="40.9" height="2.5" fill="#1a82c0" />
<rect x="604.9" y="3107.3" width="26.5" height="2.3" fill="#1a82c0" />
<rect x="648.5" y="3103.5" width="13.3" height="9.1" fill="#02224a" />
<rect x="657.9" y="3112.6" width="8.8" height="14.9" fill="#02224a" />
<rect x="646.8" y="3127.5" width="45.2" height="9.1" fill="#02224a" />
<rect x="692" y="3131.3" width="18.1" height="2.5" fill="#1a82c0" />
<rect x="717.2" y="2997" width="69.6" height="5" fill="#02224a" />
<rect x="717.2" y="3001.9" width="5.5" height="11.3" fill="#02224a" />
<rect x="779.3" y="3001.9" width="4.5" height="126.4" fill="#02224a" />
<rect x="717.2" y="3036.7" width="5.5" height="19.9" fill="#02224a" />
<rect x="722.7" y="3041.3" width="56.6" height="4.6" fill="#02224a" />
<rect x="717.2" y="3079.4" width="5.5" height="20.2" fill="#02224a" />
<rect x="722.7" y="3084.4" width="56.6" height="4.6" fill="#02224a" />
<rect x="717.2" y="3122.8" width="5.5" height="5.5" fill="#02224a" />
<rect x="710.1" y="3128.3" width="89.6" height="8.3" fill="#02224a" />
<rect x="727.5" y="3013.2" width="45.2" height="24.5" fill="#fff" stroke="#777" stroke-width="0.9" />
<line x1="727.5" y1="3013.2" x2="772.7" y2="3037.7" stroke="#777" stroke-width="0.8" />
<line x1="727.5" y1="3037.7" x2="772.7" y2="3013.2" stroke="#777" stroke-width="0.8" />
<rect x="727.5" y="3056.6" width="45.2" height="24.8" fill="#fff" stroke="#777" stroke-width="0.9" />
<line x1="727.5" y1="3056.6" x2="772.7" y2="3081.4" stroke="#777" stroke-width="0.8" />
<line x1="727.5" y1="3081.4" x2="772.7" y2="3056.6" stroke="#777" stroke-width="0.8" />
<rect x="727.5" y="3100.6" width="45.2" height="24.8" fill="#fff" stroke="#777" stroke-width="0.9" />
<line x1="727.5" y1="3100.6" x2="772.7" y2="3125.5" stroke="#777" stroke-width="0.8" />
<line x1="727.5" y1="3125.5" x2="772.7" y2="3100.6" stroke="#777" stroke-width="0.8" />
<rect x="783.8" y="3041.3" width="22.9" height="63.3" fill="none" stroke="#777" stroke-width="0.8" />
<line x1="783.8" y1="3047.1" x2="806.7" y2="3047.1" stroke="#777" stroke-width="0.8" />
<line x1="783.8" y1="3052.9" x2="806.7" y2="3052.9" stroke="#777" stroke-width="0.8" />
<line x1="783.8" y1="3058.7" x2="806.7" y2="3058.7" stroke="#777" stroke-width="0.8" />
<line x1="783.8" y1="3064.5" x2="806.7" y2="3064.5" stroke="#777" stroke-width="0.8" />
<line x1="783.8" y1="3070.3" x2="806.7" y2="3070.3" stroke="#777" stroke-width="0.8" />
<line x1="783.8" y1="3076.1" x2="806.7" y2="3076.1" stroke="#777" stroke-width="0.8" />
<line x1="783.8" y1="3081.9" x2="806.7" y2="3081.9" stroke="#777" stroke-width="0.8" />
<line x1="783.8" y1="3087.7" x2="806.7" y2="3087.7" stroke="#777" stroke-width="0.8" />
<line x1="783.8" y1="3093.5" x2="806.7" y2="3093.5" stroke="#777" stroke-width="0.8" />
<line x1="783.8" y1="3099.3" x2="806.7" y2="3099.3" stroke="#777" stroke-width="0.8" />
<rect x="809.6" y="3044.3" width="22.7" height="60.3" fill="none" stroke="#777" stroke-width="0.8" />
<line x1="809.6" y1="3049.6" x2="832.3" y2="3049.6" stroke="#777" stroke-width="0.8" />
<line x1="809.6" y1="3055.1" x2="832.3" y2="3055.1" stroke="#777" stroke-width="0.8" />
<line x1="809.6" y1="3060.6" x2="832.3" y2="3060.6" stroke="#777" stroke-width="0.8" />
<line x1="809.6" y1="3066" x2="832.3" y2="3066" stroke="#777" stroke-width="0.8" />
<line x1="809.6" y1="3071.5" x2="832.3" y2="3071.5" stroke="#777" stroke-width="0.8" />
<line x1="809.6" y1="3077" x2="832.3" y2="3077" stroke="#777" stroke-width="0.8" />
<line x1="809.6" y1="3082.4" x2="832.3" y2="3082.4" stroke="#777" stroke-width="0.8" />
<line x1="809.6" y1="3087.9" x2="832.3" y2="3087.9" stroke="#777" stroke-width="0.8" />
<line x1="809.6" y1="3093.4" x2="832.3" y2="3093.4" stroke="#777" stroke-width="0.8" />
<line x1="809.6" y1="3098.8" x2="832.3" y2="3098.8" stroke="#777" stroke-width="0.8" />
<line x1="809.6" y1="3104.3" x2="832.3" y2="3104.3" stroke="#777" stroke-width="0.8" />
<line x1="821.2" y1="3044.3" x2="821.2" y2="3069.5" stroke="#777" stroke-width="0.8" />
<line x1="810.3" y1="3080.8" x2="832.3" y2="3070.8" stroke="#333" stroke-width="0.8" />
<rect x="809.6" y="2997" width="50.4" height="4.3" fill="#02224a" />
<rect x="832.3" y="2990" width="4.1" height="137.5" fill="#02224a" />
<rect x="811.6" y="3001.3" width="3.3" height="18.2" fill="#02224a" />
<rect x="811.6" y="3015.7" width="20.7" height="3.8" fill="#02224a" />
<rect x="817.9" y="3127.5" width="37.3" height="9.1" fill="#02224a" />
<rect x="799.7" y="3131.3" width="18.2" height="2.5" fill="#1a82c0" />
<rect x="855.2" y="3132.1" width="4.8" height="2.5" fill="#1a82c0" />
<rect x="843.9" y="2990" width="2.5" height="7" fill="#02224a" />
<rect x="837.8" y="2990" width="5" height="7" fill="#fff" />
<polyline points="815.8,3002.4 826.5,3004.1 830.2,3006.6 832.3,3014.8" fill="none" stroke="#02224a" stroke-width="0.8"/>
<line x1="587.7" y1="3029.8" x2="569.5" y2="3039.7" stroke="#111" stroke-width="1.1" />
<line x1="648.5" y1="3108.4" x2="632.3" y2="3099.3" stroke="#111" stroke-width="1.1" />
<line x1="786.8" y1="3001.3" x2="807" y2="3012.4" stroke="#111" stroke-width="1.1" />
<rect x="840" y="2997" width="49.4" height="3.8" fill="#02224a" />
<rect x="843.6" y="2990" width="3.3" height="7" fill="#02224a" />
<rect x="933.6" y="3003.3" width="3.3" height="20.7" fill="#02224a" />
<rect x="932.8" y="3022.3" width="41.4" height="3.8" fill="#02224a" />
<rect x="974.2" y="2990" width="7" height="137.5" fill="#02224a" />
<rect x="908.2" y="3024" width="6.6" height="21.5" fill="#02224a" />
<rect x="908.2" y="3045.5" width="2.7" height="57.1" fill="#02224a" />
<rect x="910.9" y="3102.6" width="14.1" height="9.1" fill="#02224a" />
<rect x="908.2" y="3111.7" width="9.1" height="15.7" fill="#02224a" />
<rect x="894.7" y="3127.5" width="29" height="9.1" fill="#02224a" />
<rect x="941.9" y="3107.3" width="27.3" height="2.3" fill="#1a82c0" />
<rect x="969.2" y="3102.6" width="5" height="9.1" fill="#02224a" />
<rect x="971.7" y="3111.7" width="9.4" height="15.7" fill="#02224a" />
<rect x="965.9" y="3127.5" width="25.7" height="9.1" fill="#02224a" />
<rect x="923.6" y="3133.8" width="42.2" height="2.5" fill="#1a82c0" />
<rect x="855.4" y="3132.1" width="39.3" height="2.5" fill="#1a82c0" />
<rect x="840" y="3127.5" width="15.4" height="9.1" fill="#02224a" />
<rect x="991.6" y="3132.1" width="38.6" height="2.5" fill="#1a82c0" />
<rect x="1030.1" y="3127.5" width="35.9" height="9.1" fill="#02224a" />
<rect x="1050.4" y="3111.2" width="6.1" height="16.2" fill="#02224a" />
<rect x="1050.4" y="3061.6" width="2.2" height="49.7" fill="#02224a" />
<rect x="1050.4" y="3039.4" width="6.1" height="22.2" fill="#02224a" />
<rect x="1050.4" y="3039.4" width="28.2" height="2.3" fill="#02224a" />
<rect x="1066.1" y="3132.1" width="38.9" height="2.5" fill="#1a82c0" />
<rect x="1105" y="3127.5" width="23.2" height="9.1" fill="#02224a" />
<rect x="1119.1" y="3111.7" width="9.1" height="15.7" fill="#02224a" />
<rect x="1121.1" y="3102.6" width="14.9" height="9.1" fill="#02224a" />
<rect x="1119.1" y="3061.6" width="2.5" height="41.1" fill="#02224a" />
<rect x="1119.1" y="3038" width="6.1" height="23.5" fill="#02224a" />
<rect x="1097.2" y="3039.4" width="22.7" height="2.3" fill="#02224a" />
<rect x="1152.5" y="3107.3" width="7.5" height="2.3" fill="#1a82c0" />
<rect x="1128.2" y="3134.1" width="31.8" height="2.5" fill="#1a82c0" />
<rect x="1025.2" y="2990" width="2.5" height="26.5" fill="#02224a" />
<rect x="1080.2" y="2990" width="3" height="26.5" fill="#02224a" />
<rect x="1080.2" y="3014" width="20.2" height="2.5" fill="#02224a" />
<rect x="1117.4" y="3014" width="42.6" height="2.5" fill="#02224a" />
<rect x="1140.1" y="2990" width="3" height="24" fill="#02224a" />
<rect x="1150.1" y="2990" width="2.7" height="24" fill="#02224a" />
<rect x="1144.4" y="2990" width="4.5" height="23.2" fill="#fff" stroke="#5d6f8c" stroke-width="0.8" />
<line x1="914.9" y1="3026.4" x2="931.1" y2="3035.1" stroke="#111" stroke-width="1.1" />
<line x1="925" y1="3107.9" x2="939.9" y2="3099.3" stroke="#111" stroke-width="1.1" />
<line x1="1097.2" y1="3039.4" x2="1080.2" y2="3030.1" stroke="#111" stroke-width="1.1" />
<line x1="1136" y1="3107.9" x2="1151.9" y2="3098.5" stroke="#111" stroke-width="1.1" />
<line x1="1117.4" y1="3015.7" x2="1101.4" y2="3025.1" stroke="#111" stroke-width="1.1" />
<line x1="1119.6" y1="3016.5" x2="1129.9" y2="3034.4" stroke="#111" stroke-width="1.1" />
<line x1="932.8" y1="2990" x2="925.3" y2="3001.9" stroke="#111" stroke-width="1.1" />
</g>
<text x="249.8" y="3250" font-size="52.4" fill="#1f3254" font-weight="bold" textLength="479.8" lengthAdjust="spacingAndGlyphs" >Квартира на этаже</text>
</svg>
</body></html>
